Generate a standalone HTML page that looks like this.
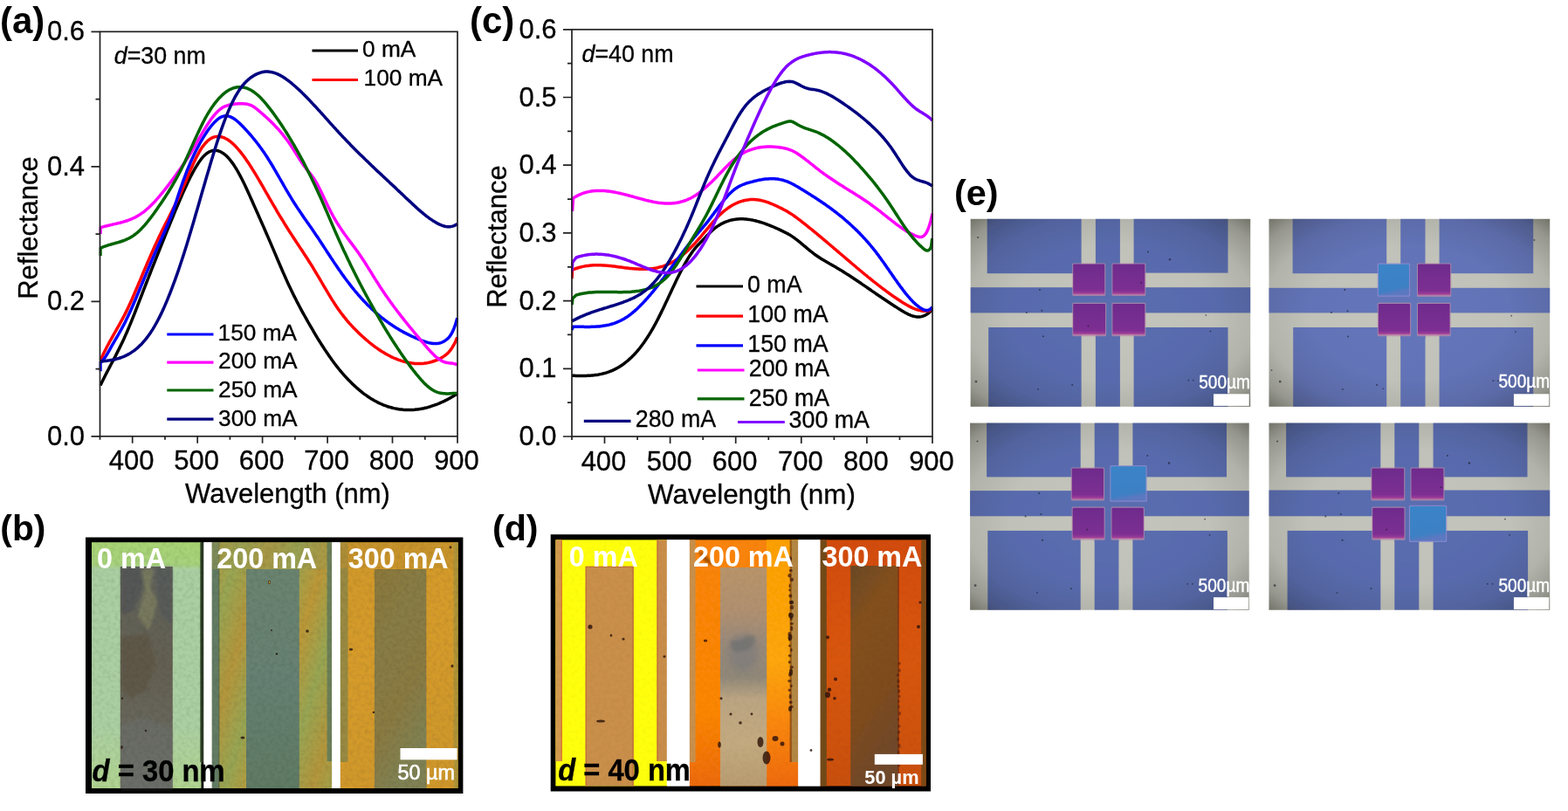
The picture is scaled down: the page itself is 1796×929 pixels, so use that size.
<!DOCTYPE html>
<html lang="en">
<head>
<meta charset="utf-8">
<title>Reflectance spectra and optical micrographs</title>
<style>
html,body{margin:0;padding:0;background:#fff;}
body{width:1796px;height:929px;overflow:hidden;font-family:"Liberation Sans", sans-serif;}
svg{display:block;position:absolute;left:0;top:0;}
</style>
</head>
<body>
<svg width="1796" height="929" viewBox="0 0 1796 929">
<rect x="0" y="0" width="1796" height="929" fill="#ffffff"/>
<defs>
<filter id="soft" x="-2%" y="-2%" width="104%" height="104%"><feGaussianBlur stdDeviation="0.7"/></filter>
<filter id="soft2" x="-5%" y="-5%" width="110%" height="110%"><feGaussianBlur stdDeviation="1.6"/></filter>
<filter id="soft4" x="-20%" y="-20%" width="140%" height="140%"><feGaussianBlur stdDeviation="4"/></filter>
<filter id="grain" x="0" y="0" width="100%" height="100%">
  <feTurbulence type="fractalNoise" baseFrequency="0.22" numOctaves="2" seed="7" result="n"/>
  <feColorMatrix in="n" type="matrix" values="0 0 0 0 0  0 0 0 0 0  0 0 0 0 0  1.6 0 0 0 -0.62"/>
</filter>
<filter id="grainL" x="0" y="0" width="100%" height="100%">
  <feTurbulence type="fractalNoise" baseFrequency="0.035" numOctaves="3" seed="3" result="n"/>
  <feColorMatrix in="n" type="matrix" values="0 0 0 0 1  0 0 0 0 1  0 0 0 0 1  0 1.8 0 0 -0.72"/>
</filter>
<linearGradient id="b1bg" x1="0" y1="0" x2="0" y2="1">
  <stop offset="0" stop-color="#a8d474"/><stop offset="0.09" stop-color="#a8d27c"/><stop offset="0.11" stop-color="#abcea2"/>
  <stop offset="0.75" stop-color="#accfa2"/><stop offset="1" stop-color="#b0d490"/>
</linearGradient>
<linearGradient id="b1st" x1="0" y1="0" x2="0" y2="1">
  <stop offset="0" stop-color="#62645c"/><stop offset="0.45" stop-color="#646052"/><stop offset="1" stop-color="#6c6e66"/>
</linearGradient>
<linearGradient id="b2bg" x1="0" y1="0" x2="0.35" y2="0.22" spreadMethod="reflect">
  <stop offset="0" stop-color="#bc9838"/><stop offset="0.5" stop-color="#98a654"/><stop offset="1" stop-color="#b4963c"/>
</linearGradient>
<linearGradient id="b2st" x1="0" y1="0" x2="0" y2="1">
  <stop offset="0" stop-color="#6a8470"/><stop offset="0.5" stop-color="#668072"/><stop offset="1" stop-color="#5f7a64"/>
</linearGradient>
<linearGradient id="b3bg" x1="0" y1="0" x2="0.3" y2="1">
  <stop offset="0" stop-color="#d0982a"/><stop offset="0.5" stop-color="#d69c2c"/><stop offset="1" stop-color="#d0982c"/>
</linearGradient>
<linearGradient id="b3st" x1="0" y1="0" x2="0.4" y2="1">
  <stop offset="0" stop-color="#8c783a"/><stop offset="0.35" stop-color="#887c46"/><stop offset="0.7" stop-color="#8a7a42"/><stop offset="1" stop-color="#808254"/>
</linearGradient>
<linearGradient id="d2st" x1="0" y1="0" x2="0" y2="1">
  <stop offset="0" stop-color="#b8946a"/><stop offset="0.2" stop-color="#b09070"/><stop offset="0.34" stop-color="#9a8a7a"/><stop offset="0.5" stop-color="#908878"/>
  <stop offset="0.6" stop-color="#baa482"/><stop offset="0.8" stop-color="#c4aa80"/><stop offset="1" stop-color="#b89c70"/>
</linearGradient>
<linearGradient id="d2l" x1="0" y1="0" x2="0" y2="1">
  <stop offset="0" stop-color="#f98408"/><stop offset="0.7" stop-color="#fb8606"/><stop offset="1" stop-color="#ec6a08"/>
</linearGradient>
<linearGradient id="d2r" x1="0" y1="0" x2="0" y2="1">
  <stop offset="0" stop-color="#fca006"/><stop offset="0.5" stop-color="#fda608"/><stop offset="0.72" stop-color="#fa8a0a"/><stop offset="1" stop-color="#ee6a0c"/>
</linearGradient>
<linearGradient id="d3bg" x1="0" y1="0" x2="0" y2="1">
  <stop offset="0" stop-color="#d24c08"/><stop offset="0.5" stop-color="#d8560c"/><stop offset="1" stop-color="#c8500e"/>
</linearGradient>
<linearGradient id="d3st" x1="0" y1="0" x2="0.3" y2="1">
  <stop offset="0" stop-color="#6a4a26"/><stop offset="0.3" stop-color="#84501e"/><stop offset="0.7" stop-color="#7e4c1e"/><stop offset="1" stop-color="#70482a"/>
</linearGradient>
<radialGradient id="vig" cx="0.5" cy="0.5" r="0.72" fx="0.5" fy="0.5">
  <stop offset="0" stop-color="#000" stop-opacity="0"/><stop offset="0.5" stop-color="#000" stop-opacity="0.02"/>
  <stop offset="0.72" stop-color="#101008" stop-opacity="0.10"/><stop offset="0.88" stop-color="#101008" stop-opacity="0.26"/><stop offset="1" stop-color="#141408" stop-opacity="0.5"/>
</radialGradient>
<linearGradient id="sqp" x1="0" y1="0" x2="0" y2="1">
  <stop offset="0" stop-color="#6e2c8c"/><stop offset="0.85" stop-color="#7c2e92"/><stop offset="0.95" stop-color="#9a3c98"/><stop offset="1" stop-color="#c0689c"/>
</linearGradient>
<linearGradient id="sqb" x1="0" y1="0" x2="0.2" y2="1">
  <stop offset="0" stop-color="#3a84c8"/><stop offset="0.85" stop-color="#3c80c4"/><stop offset="1" stop-color="#5c78c0"/>
</linearGradient>
</defs>
<g id="ga">
<clipPath id="clip-ga"><rect x="113.5" y="36.3" width="411.5" height="463.5"/></clipPath>
<g clip-path="url(#clip-ga)" fill="none" stroke-width="3.5" stroke-linejoin="round" stroke-linecap="butt">
<path d="M115 441.5 L116.5 438.3 L118 435.3 L119.5 432.3 L121 429.3 L122.5 426.4 L124 423.5 L125.5 420.7 L127 417.8 L128.5 415 L130 412.1 L131.5 409.3 L133 406.4 L134.5 403.4 L136 400.4 L137.5 397.4 L139 394.3 L140.5 391.2 L142 388 L143.5 384.6 L145 381.2 L146.5 377.8 L148 374.2 L149.5 370.6 L151 366.9 L152.5 363.1 L154 359.3 L155.5 355.5 L157 351.6 L158.5 347.7 L160 343.9 L161.5 340 L163 336.1 L164.5 332.2 L166 328.4 L167.5 324.5 L169 320.7 L170.5 316.9 L172 313 L173.5 309.2 L175 305.4 L176.5 301.6 L178 297.8 L179.5 294.1 L181 290.3 L182.5 286.5 L184 282.8 L185.5 279 L187 275.3 L188.5 271.6 L190 267.9 L191.5 264.2 L193 260.5 L194.5 256.8 L196 253.2 L197.5 249.5 L199 245.9 L200.5 242.2 L202 238.6 L203.5 235 L205 231.5 L206.5 228 L208 224.5 L209.5 221.1 L211 217.8 L212.5 214.5 L214 211.2 L215.5 208.1 L217 205 L218.5 202 L220 199.1 L221.5 196.4 L223 193.7 L224.5 191.1 L226 188.7 L227.5 186.4 L229 184.2 L230.5 182.2 L232 180.4 L233.5 178.7 L235 177.3 L236.5 176 L238 174.9 L239.5 174 L241 173.3 L242.5 172.8 L244 172.4 L245.5 172.3 L247 172.3 L248.5 172.5 L250 172.8 L251.5 173.4 L253 174 L254.5 174.9 L256 175.9 L257.5 177 L259 178.3 L260.5 179.8 L262 181.4 L263.5 183.2 L265 185.1 L266.5 187.1 L268 189.3 L269.5 191.6 L271 194 L272.5 196.6 L274 199.3 L275.5 202.1 L277 205 L278.5 208 L280 211.1 L281.5 214.3 L283 217.5 L284.5 220.8 L286 224.1 L287.5 227.5 L289 230.8 L290.5 234.2 L292 237.6 L293.5 241 L295 244.3 L296.5 247.7 L298 251.1 L299.5 254.5 L301 257.9 L302.5 261.3 L304 264.7 L305.5 268.2 L307 271.6 L308.5 275.1 L310 278.6 L311.5 282.1 L313 285.6 L314.5 289.1 L316 292.7 L317.5 296.2 L319 299.7 L320.5 303.2 L322 306.7 L323.5 310.2 L325 313.6 L326.5 317 L328 320.4 L329.5 323.7 L331 326.9 L332.5 330.1 L334 333.2 L335.5 336.3 L337 339.4 L338.5 342.3 L340 345.3 L341.5 348.1 L343 351 L344.5 353.8 L346 356.6 L347.5 359.3 L349 362 L350.5 364.7 L352 367.4 L353.5 370 L355 372.6 L356.5 375.2 L358 377.7 L359.5 380.3 L361 382.8 L362.5 385.3 L364 387.8 L365.5 390.2 L367 392.6 L368.5 395 L370 397.3 L371.5 399.6 L373 401.9 L374.5 404.1 L376 406.3 L377.5 408.5 L379 410.6 L380.5 412.7 L382 414.7 L383.5 416.7 L385 418.7 L386.5 420.6 L388 422.5 L389.5 424.3 L391 426.1 L392.5 427.9 L394 429.6 L395.5 431.3 L397 432.9 L398.5 434.5 L400 436.1 L401.5 437.6 L403 439.1 L404.5 440.5 L406 441.9 L407.5 443.3 L409 444.6 L410.5 445.9 L412 447.2 L413.5 448.4 L415 449.6 L416.5 450.8 L418 451.9 L419.5 452.9 L421 454 L422.5 455 L424 456 L425.5 456.9 L427 457.8 L428.5 458.7 L430 459.5 L431.5 460.3 L433 461.1 L434.5 461.8 L436 462.5 L437.5 463.1 L439 463.8 L440.5 464.4 L442 464.9 L443.5 465.5 L445 466 L446.5 466.4 L448 466.8 L449.5 467.2 L451 467.6 L452.5 467.9 L454 468.2 L455.5 468.5 L457 468.8 L458.5 469 L460 469.1 L461.5 469.3 L463 469.4 L464.5 469.5 L466 469.6 L467.5 469.6 L469 469.6 L470.5 469.5 L472 469.5 L473.5 469.4 L475 469.3 L476.5 469.1 L478 469 L479.5 468.8 L481 468.5 L482.5 468.3 L484 468 L485.5 467.7 L487 467.3 L488.5 467 L490 466.6 L491.5 466.1 L493 465.7 L494.5 465.2 L496 464.7 L497.5 464.2 L499 463.6 L500.5 463.1 L502 462.5 L503.5 461.8 L505 461.2 L506.5 460.5 L508 459.8 L509.5 459.1 L511 458.3 L512.5 457.6 L514 456.8 L515.5 455.9 L517 455.1 L518.5 454.2 L520 453.3 L521.5 452.4 L523 451.5 L523.8 451" stroke="#000000"/>
<path d="M115 412.7 L116.5 409.4 L118 406.3 L119.5 403.2 L121 400.2 L122.5 397.3 L124 394.5 L125.5 391.7 L127 389 L128.5 386.3 L130 383.6 L131.5 381 L133 378.4 L134.5 375.7 L136 373.1 L137.5 370.4 L139 367.6 L140.5 364.8 L142 362 L143.5 359.1 L145 356.1 L146.5 353 L148 349.8 L149.5 346.5 L151 343.2 L152.5 339.8 L154 336.3 L155.5 332.8 L157 329.3 L158.5 325.7 L160 322.2 L161.5 318.6 L163 315 L164.5 311.4 L166 307.9 L167.5 304.3 L169 300.8 L170.5 297.4 L172 293.9 L173.5 290.5 L175 287.1 L176.5 283.8 L178 280.4 L179.5 277.2 L181 274 L182.5 270.8 L184 267.7 L185.5 264.6 L187 261.6 L188.5 258.6 L190 255.6 L191.5 252.7 L193 249.7 L194.5 246.8 L196 243.8 L197.5 240.8 L199 237.8 L200.5 234.7 L202 231.6 L203.5 228.5 L205 225.3 L206.5 222 L208 218.7 L209.5 215.2 L211 211.7 L212.5 208.2 L214 204.7 L215.5 201.1 L217 197.6 L218.5 194.1 L220 190.7 L221.5 187.4 L223 184.2 L224.5 181.1 L226 178.1 L227.5 175.3 L229 172.7 L230.5 170.3 L232 168.1 L233.5 166.1 L235 164.3 L236.5 162.7 L238 161.2 L239.5 160 L241 159 L242.5 158.1 L244 157.4 L245.5 156.9 L247 156.6 L248.5 156.4 L250 156.3 L251.5 156.4 L253 156.7 L254.5 157 L256 157.6 L257.5 158.2 L259 159 L260.5 159.8 L262 160.8 L263.5 161.9 L265 163.1 L266.5 164.4 L268 165.8 L269.5 167.3 L271 168.9 L272.5 170.6 L274 172.3 L275.5 174.2 L277 176.1 L278.5 178 L280 180.1 L281.5 182.2 L283 184.4 L284.5 186.6 L286 188.9 L287.5 191.2 L289 193.6 L290.5 196 L292 198.4 L293.5 200.9 L295 203.4 L296.5 206 L298 208.5 L299.5 211.1 L301 213.7 L302.5 216.3 L304 219 L305.5 221.6 L307 224.2 L308.5 226.8 L310 229.4 L311.5 232 L313 234.6 L314.5 237.2 L316 239.7 L317.5 242.3 L319 244.8 L320.5 247.3 L322 249.7 L323.5 252.2 L325 254.7 L326.5 257.1 L328 259.5 L329.5 261.9 L331 264.2 L332.5 266.6 L334 268.9 L335.5 271.2 L337 273.5 L338.5 275.8 L340 278.1 L341.5 280.3 L343 282.6 L344.5 284.9 L346 287.1 L347.5 289.4 L349 291.7 L350.5 294 L352 296.3 L353.5 298.7 L355 301 L356.5 303.4 L358 305.8 L359.5 308.3 L361 310.8 L362.5 313.3 L364 315.8 L365.5 318.4 L367 320.9 L368.5 323.5 L370 326.1 L371.5 328.6 L373 331.2 L374.5 333.7 L376 336.2 L377.5 338.7 L379 341.2 L380.5 343.6 L382 345.9 L383.5 348.3 L385 350.5 L386.5 352.7 L388 354.9 L389.5 356.9 L391 359 L392.5 360.9 L394 362.9 L395.5 364.7 L397 366.6 L398.5 368.3 L400 370.1 L401.5 371.7 L403 373.4 L404.5 375 L406 376.6 L407.5 378.1 L409 379.6 L410.5 381.1 L412 382.5 L413.5 383.9 L415 385.3 L416.5 386.6 L418 387.9 L419.5 389.2 L421 390.5 L422.5 391.8 L424 393 L425.5 394.2 L427 395.3 L428.5 396.5 L430 397.6 L431.5 398.6 L433 399.7 L434.5 400.7 L436 401.7 L437.5 402.7 L439 403.6 L440.5 404.5 L442 405.4 L443.5 406.2 L445 407 L446.5 407.8 L448 408.6 L449.5 409.3 L451 410 L452.5 410.6 L454 411.2 L455.5 411.8 L457 412.4 L458.5 412.9 L460 413.4 L461.5 413.8 L463 414.3 L464.5 414.6 L466 415 L467.5 415.3 L469 415.6 L470.5 415.8 L472 416.1 L473.5 416.2 L475 416.4 L476.5 416.5 L478 416.5 L479.5 416.6 L481 416.5 L482.5 416.5 L484 416.4 L485.5 416.3 L487 416.1 L488.5 415.9 L490 415.6 L491.5 415.3 L493 414.9 L494.5 414.5 L496 414 L497.5 413.5 L499 413 L500.5 412.4 L502 411.7 L503.5 411 L505 410.2 L506.5 409.4 L508 408.4 L509.5 407.4 L511 406.2 L512.5 404.9 L514 403.4 L515.5 401.6 L517 399.6 L518.5 397.2 L520 394.6 L521.5 391.7 L523 388.3 L523.8 386.5" stroke="#ff0000"/>
<path d="M115 425.2 L115 415.3 L116.5 414.1 L118 412.6 L119.5 410.6 L121 408.4 L122.5 406 L124 403.4 L125.5 400.8 L127 398.1 L128.5 395.4 L130 392.8 L131.5 390.2 L133 387.6 L134.5 385.1 L136 382.5 L137.5 379.8 L139 377.2 L140.5 374.4 L142 371.6 L143.5 368.7 L145 365.6 L146.5 362.5 L148 359.3 L149.5 356 L151 352.7 L152.5 349.3 L154 345.8 L155.5 342.3 L157 338.7 L158.5 335.1 L160 331.5 L161.5 327.9 L163 324.3 L164.5 320.7 L166 317.1 L167.5 313.5 L169 309.9 L170.5 306.3 L172 302.8 L173.5 299.2 L175 295.7 L176.5 292.3 L178 288.8 L179.5 285.4 L181 282 L182.5 278.7 L184 275.4 L185.5 272.1 L187 268.8 L188.5 265.4 L190 262 L191.5 258.5 L193 255 L194.5 251.3 L196 247.4 L197.5 243.5 L199 239.3 L200.5 234.9 L202 230.5 L203.5 225.9 L205 221.4 L206.5 216.9 L208 212.5 L209.5 208.2 L211 204.1 L212.5 200.1 L214 196.2 L215.5 192.5 L217 188.8 L218.5 185.3 L220 182 L221.5 178.7 L223 175.6 L224.5 172.5 L226 169.6 L227.5 166.8 L229 164 L230.5 161.4 L232 158.9 L233.5 156.4 L235 154.1 L236.5 151.8 L238 149.6 L239.5 147.5 L241 145.5 L242.5 143.7 L244 141.9 L245.5 140.2 L247 138.7 L248.5 137.4 L250 136.2 L251.5 135.1 L253 134.2 L254.5 133.6 L256 133.1 L257.5 132.8 L259 132.7 L260.5 132.8 L262 133.1 L263.5 133.6 L265 134.3 L266.5 135.1 L268 136 L269.5 137 L271 138.2 L272.5 139.5 L274 140.8 L275.5 142.3 L277 143.8 L278.5 145.3 L280 146.9 L281.5 148.5 L283 150.1 L284.5 151.8 L286 153.5 L287.5 155.2 L289 157 L290.5 158.8 L292 160.7 L293.5 162.5 L295 164.5 L296.5 166.4 L298 168.5 L299.5 170.5 L301 172.7 L302.5 174.8 L304 177.1 L305.5 179.3 L307 181.7 L308.5 184.1 L310 186.5 L311.5 189 L313 191.5 L314.5 194.1 L316 196.7 L317.5 199.3 L319 201.9 L320.5 204.5 L322 207.1 L323.5 209.7 L325 212.4 L326.5 215 L328 217.6 L329.5 220.1 L331 222.7 L332.5 225.2 L334 227.6 L335.5 230.1 L337 232.5 L338.5 234.8 L340 237.1 L341.5 239.4 L343 241.6 L344.5 243.8 L346 246 L347.5 248.2 L349 250.4 L350.5 252.5 L352 254.7 L353.5 256.8 L355 259 L356.5 261.1 L358 263.3 L359.5 265.5 L361 267.7 L362.5 269.9 L364 272.1 L365.5 274.4 L367 276.7 L368.5 279 L370 281.3 L371.5 283.6 L373 285.9 L374.5 288.2 L376 290.5 L377.5 292.8 L379 295.1 L380.5 297.3 L382 299.6 L383.5 301.9 L385 304.1 L386.5 306.3 L388 308.5 L389.5 310.6 L391 312.8 L392.5 314.9 L394 316.9 L395.5 319 L397 321 L398.5 323 L400 324.9 L401.5 326.9 L403 328.8 L404.5 330.6 L406 332.5 L407.5 334.3 L409 336 L410.5 337.8 L412 339.5 L413.5 341.2 L415 342.8 L416.5 344.5 L418 346.1 L419.5 347.6 L421 349.2 L422.5 350.6 L424 352.1 L425.5 353.6 L427 355 L428.5 356.3 L430 357.7 L431.5 359 L433 360.3 L434.5 361.6 L436 362.8 L437.5 364 L439 365.2 L440.5 366.4 L442 367.5 L443.5 368.6 L445 369.7 L446.5 370.7 L448 371.8 L449.5 372.8 L451 373.8 L452.5 374.7 L454 375.7 L455.5 376.6 L457 377.5 L458.5 378.4 L460 379.2 L461.5 380.1 L463 380.9 L464.5 381.7 L466 382.4 L467.5 383.2 L469 383.9 L470.5 384.7 L472 385.4 L473.5 386 L475 386.7 L476.5 387.4 L478 388 L479.5 388.6 L481 389.2 L482.5 389.8 L484 390.4 L485.5 390.9 L487 391.4 L488.5 391.9 L490 392.4 L491.5 392.8 L493 393.1 L494.5 393.3 L496 393.5 L497.5 393.6 L499 393.6 L500.5 393.5 L502 393.3 L503.5 393 L505 392.6 L506.5 392 L508 391.3 L509.5 390.4 L511 389.4 L512.5 388.2 L514 386.7 L515.5 384.8 L517 382.5 L518.5 379.6 L520 376.2 L521.5 372 L523 367 L523.8 364.2" stroke="#0000ff"/>
<path d="M115 268 L115 260.7 L116.5 260.3 L118 259.9 L119.5 259.4 L121 259 L122.5 258.7 L124 258.3 L125.5 258 L127 257.6 L128.5 257.3 L130 256.9 L131.5 256.6 L133 256.3 L134.5 255.9 L136 255.5 L137.5 255.2 L139 254.8 L140.5 254.4 L142 253.9 L143.5 253.5 L145 253 L146.5 252.5 L148 251.9 L149.5 251.3 L151 250.7 L152.5 250 L154 249.3 L155.5 248.6 L157 247.7 L158.5 246.9 L160 245.9 L161.5 244.9 L163 243.9 L164.5 242.8 L166 241.6 L167.5 240.3 L169 239 L170.5 237.7 L172 236.2 L173.5 234.8 L175 233.2 L176.5 231.7 L178 230.1 L179.5 228.4 L181 226.7 L182.5 225 L184 223.2 L185.5 221.4 L187 219.5 L188.5 217.7 L190 215.7 L191.5 213.8 L193 211.9 L194.5 209.9 L196 207.9 L197.5 205.9 L199 203.8 L200.5 201.8 L202 199.7 L203.5 197.6 L205 195.5 L206.5 193.4 L208 191.3 L209.5 189.1 L211 186.9 L212.5 184.6 L214 182.3 L215.5 180 L217 177.6 L218.5 175.2 L220 172.7 L221.5 170.2 L223 167.6 L224.5 165 L226 162.3 L227.5 159.7 L229 157.1 L230.5 154.5 L232 151.9 L233.5 149.4 L235 146.9 L236.5 144.5 L238 142.1 L239.5 139.9 L241 137.7 L242.5 135.6 L244 133.7 L245.5 131.8 L247 130.1 L248.5 128.5 L250 127 L251.5 125.7 L253 124.5 L254.5 123.5 L256 122.6 L257.5 121.9 L259 121.3 L260.5 120.8 L262 120.4 L263.5 120 L265 119.7 L266.5 119.5 L268 119.3 L269.5 119.1 L271 119 L272.5 118.8 L274 118.8 L275.5 118.7 L277 118.7 L278.5 118.8 L280 118.9 L281.5 119 L283 119.3 L284.5 119.6 L286 120.1 L287.5 120.7 L289 121.4 L290.5 122.3 L292 123.3 L293.5 124.4 L295 125.6 L296.5 126.9 L298 128.2 L299.5 129.5 L301 130.8 L302.5 132.1 L304 133.5 L305.5 134.8 L307 136.2 L308.5 137.6 L310 139.1 L311.5 140.5 L313 142 L314.5 143.6 L316 145.2 L317.5 146.8 L319 148.4 L320.5 150.2 L322 151.9 L323.5 153.7 L325 155.6 L326.5 157.5 L328 159.5 L329.5 161.5 L331 163.6 L332.5 165.8 L334 168.1 L335.5 170.4 L337 172.7 L338.5 175.1 L340 177.5 L341.5 179.8 L343 182.2 L344.5 184.5 L346 186.7 L347.5 188.9 L349 191 L350.5 192.9 L352 194.8 L353.5 196.7 L355 198.5 L356.5 200.4 L358 202.4 L359.5 204.5 L361 206.9 L362.5 209.4 L364 212.2 L365.5 215 L367 218 L368.5 221.1 L370 224.2 L371.5 227.4 L373 230.5 L374.5 233.7 L376 236.8 L377.5 239.8 L379 242.7 L380.5 245.5 L382 248.3 L383.5 250.9 L385 253.5 L386.5 255.9 L388 258.3 L389.5 260.6 L391 262.9 L392.5 265.1 L394 267.2 L395.5 269.3 L397 271.3 L398.5 273.4 L400 275.4 L401.5 277.4 L403 279.4 L404.5 281.4 L406 283.4 L407.5 285.4 L409 287.5 L410.5 289.6 L412 291.7 L413.5 293.9 L415 296.2 L416.5 298.5 L418 300.8 L419.5 303.2 L421 305.6 L422.5 308 L424 310.4 L425.5 312.8 L427 315.3 L428.5 317.7 L430 320.1 L431.5 322.5 L433 324.8 L434.5 327.2 L436 329.5 L437.5 331.7 L439 334 L440.5 336.2 L442 338.4 L443.5 340.5 L445 342.7 L446.5 344.8 L448 346.9 L449.5 348.9 L451 351 L452.5 353 L454 355 L455.5 357 L457 358.9 L458.5 360.9 L460 362.8 L461.5 364.7 L463 366.6 L464.5 368.5 L466 370.4 L467.5 372.2 L469 374.1 L470.5 375.9 L472 377.7 L473.5 379.5 L475 381.4 L476.5 383.2 L478 385 L479.5 386.7 L481 388.5 L482.5 390.3 L484 392.1 L485.5 393.9 L487 395.7 L488.5 397.4 L490 399.1 L491.5 400.8 L493 402.5 L494.5 404.1 L496 405.6 L497.5 407.1 L499 408.5 L500.5 409.7 L502 410.9 L503.5 411.9 L505 412.9 L506.5 413.6 L508 414.3 L509.5 414.8 L511 415.2 L512.5 415.4 L514 415.7 L515.5 415.9 L517 416.1 L518.5 416.3 L520 416.6 L521.5 417 L523 417.5 L523.8 417.7" stroke="#ff00ff"/>
<path d="M115 293 L115 284.2 L116.5 283.6 L118 282.9 L119.5 282.4 L121 281.8 L122.5 281.3 L124 280.8 L125.5 280.4 L127 280 L128.5 279.5 L130 279.1 L131.5 278.7 L133 278.3 L134.5 277.9 L136 277.5 L137.5 277 L139 276.5 L140.5 276 L142 275.5 L143.5 274.9 L145 274.2 L146.5 273.5 L148 272.8 L149.5 271.9 L151 271.1 L152.5 270.1 L154 269 L155.5 267.9 L157 266.7 L158.5 265.4 L160 264 L161.5 262.5 L163 260.9 L164.5 259.3 L166 257.6 L167.5 255.8 L169 254 L170.5 252.1 L172 250.2 L173.5 248.2 L175 246.2 L176.5 244.2 L178 242.1 L179.5 239.9 L181 237.8 L182.5 235.6 L184 233.4 L185.5 231.2 L187 229 L188.5 226.7 L190 224.4 L191.5 222.1 L193 219.7 L194.5 217.3 L196 214.8 L197.5 212.3 L199 209.7 L200.5 207.1 L202 204.4 L203.5 201.7 L205 198.9 L206.5 196 L208 193.1 L209.5 190 L211 186.9 L212.5 183.8 L214 180.5 L215.5 177.2 L217 173.9 L218.5 170.5 L220 167.2 L221.5 163.8 L223 160.5 L224.5 157.2 L226 153.9 L227.5 150.7 L229 147.5 L230.5 144.4 L232 141.4 L233.5 138.5 L235 135.7 L236.5 133 L238 130.4 L239.5 128 L241 125.6 L242.5 123.3 L244 121.2 L245.5 119.1 L247 117.1 L248.5 115.3 L250 113.5 L251.5 111.9 L253 110.4 L254.5 108.9 L256 107.6 L257.5 106.4 L259 105.2 L260.5 104.2 L262 103.3 L263.5 102.5 L265 101.8 L266.5 101.2 L268 100.7 L269.5 100.3 L271 100 L272.5 99.8 L274 99.7 L275.5 99.7 L277 99.8 L278.5 100 L280 100.3 L281.5 100.7 L283 101.2 L284.5 101.8 L286 102.5 L287.5 103.3 L289 104.2 L290.5 105.2 L292 106.3 L293.5 107.5 L295 108.8 L296.5 110.1 L298 111.6 L299.5 113.1 L301 114.7 L302.5 116.4 L304 118.1 L305.5 119.9 L307 121.8 L308.5 123.7 L310 125.6 L311.5 127.6 L313 129.6 L314.5 131.7 L316 133.8 L317.5 136 L319 138.1 L320.5 140.3 L322 142.5 L323.5 144.8 L325 147.1 L326.5 149.4 L328 151.8 L329.5 154.2 L331 156.6 L332.5 159.1 L334 161.6 L335.5 164.1 L337 166.7 L338.5 169.3 L340 171.9 L341.5 174.6 L343 177.3 L344.5 180.1 L346 182.9 L347.5 185.7 L349 188.6 L350.5 191.5 L352 194.5 L353.5 197.5 L355 200.5 L356.5 203.6 L358 206.7 L359.5 209.8 L361 213 L362.5 216.2 L364 219.4 L365.5 222.7 L367 226 L368.5 229.4 L370 232.8 L371.5 236.2 L373 239.7 L374.5 243.1 L376 246.6 L377.5 250.1 L379 253.6 L380.5 257.1 L382 260.6 L383.5 264.1 L385 267.5 L386.5 270.9 L388 274.3 L389.5 277.6 L391 280.9 L392.5 284.2 L394 287.4 L395.5 290.6 L397 293.8 L398.5 297 L400 300.1 L401.5 303.2 L403 306.2 L404.5 309.3 L406 312.3 L407.5 315.3 L409 318.2 L410.5 321.2 L412 324.1 L413.5 327 L415 329.8 L416.5 332.7 L418 335.5 L419.5 338.3 L421 341 L422.5 343.8 L424 346.5 L425.5 349.2 L427 351.9 L428.5 354.6 L430 357.3 L431.5 359.9 L433 362.5 L434.5 365.1 L436 367.7 L437.5 370.2 L439 372.8 L440.5 375.3 L442 377.8 L443.5 380.2 L445 382.7 L446.5 385.1 L448 387.5 L449.5 389.9 L451 392.2 L452.5 394.5 L454 396.8 L455.5 399.1 L457 401.3 L458.5 403.6 L460 405.8 L461.5 407.9 L463 410.1 L464.5 412.2 L466 414.3 L467.5 416.3 L469 418.4 L470.5 420.4 L472 422.3 L473.5 424.3 L475 426.2 L476.5 428.1 L478 429.9 L479.5 431.7 L481 433.5 L482.5 435.1 L484 436.8 L485.5 438.4 L487 439.9 L488.5 441.3 L490 442.6 L491.5 443.9 L493 445 L494.5 446.1 L496 447 L497.5 447.8 L499 448.5 L500.5 449.1 L502 449.6 L503.5 450 L505 450.3 L506.5 450.6 L508 450.7 L509.5 450.8 L511 450.9 L512.5 450.9 L514 450.9 L515.5 450.8 L517 450.7 L518.5 450.6 L520 450.5 L521.5 450.4 L523 450.3 L523.8 450.2" stroke="#006400"/>
<path d="M115 414 L116.5 413.8 L118 413.7 L119.5 413.6 L121 413.4 L122.5 413.2 L124 413 L125.5 412.8 L127 412.5 L128.5 412.3 L130 412 L131.5 411.7 L133 411.3 L134.5 410.9 L136 410.5 L137.5 410 L139 409.5 L140.5 408.9 L142 408.3 L143.5 407.6 L145 406.9 L146.5 406.1 L148 405.3 L149.5 404.4 L151 403.4 L152.5 402.4 L154 401.3 L155.5 400.1 L157 398.9 L158.5 397.6 L160 396.1 L161.5 394.7 L163 393.1 L164.5 391.4 L166 389.7 L167.5 387.8 L169 385.9 L170.5 383.8 L172 381.7 L173.5 379.4 L175 377.1 L176.5 374.6 L178 372 L179.5 369.3 L181 366.5 L182.5 363.6 L184 360.6 L185.5 357.5 L187 354.2 L188.5 350.9 L190 347.4 L191.5 343.9 L193 340.2 L194.5 336.5 L196 332.6 L197.5 328.7 L199 324.7 L200.5 320.6 L202 316.4 L203.5 312.1 L205 307.7 L206.5 303.3 L208 298.7 L209.5 294.1 L211 289.5 L212.5 284.7 L214 279.9 L215.5 275 L217 270.1 L218.5 265.1 L220 260 L221.5 254.9 L223 249.8 L224.5 244.6 L226 239.5 L227.5 234.3 L229 229.1 L230.5 223.8 L232 218.6 L233.5 213.4 L235 208.3 L236.5 203.1 L238 198 L239.5 192.9 L241 187.8 L242.5 182.8 L244 177.9 L245.5 173 L247 168.2 L248.5 163.5 L250 158.9 L251.5 154.4 L253 149.9 L254.5 145.7 L256 141.5 L257.5 137.5 L259 133.6 L260.5 129.9 L262 126.3 L263.5 122.9 L265 119.6 L266.5 116.5 L268 113.5 L269.5 110.7 L271 108.1 L272.5 105.6 L274 103.3 L275.5 101.1 L277 99.1 L278.5 97.2 L280 95.5 L281.5 93.9 L283 92.5 L284.5 91.1 L286 89.9 L287.5 88.7 L289 87.7 L290.5 86.7 L292 85.9 L293.5 85.1 L295 84.4 L296.5 83.8 L298 83.3 L299.5 82.9 L301 82.5 L302.5 82.3 L304 82.1 L305.5 82.1 L307 82.1 L308.5 82.2 L310 82.4 L311.5 82.7 L313 83.1 L314.5 83.5 L316 84.1 L317.5 84.7 L319 85.4 L320.5 86.1 L322 86.9 L323.5 87.8 L325 88.8 L326.5 89.8 L328 90.8 L329.5 91.9 L331 93 L332.5 94.2 L334 95.4 L335.5 96.7 L337 98 L338.5 99.3 L340 100.6 L341.5 102 L343 103.4 L344.5 104.8 L346 106.3 L347.5 107.7 L349 109.2 L350.5 110.7 L352 112.3 L353.5 113.8 L355 115.4 L356.5 117 L358 118.6 L359.5 120.2 L361 121.8 L362.5 123.4 L364 125.1 L365.5 126.7 L367 128.4 L368.5 130 L370 131.7 L371.5 133.4 L373 135.1 L374.5 136.7 L376 138.4 L377.5 140.1 L379 141.8 L380.5 143.4 L382 145.1 L383.5 146.7 L385 148.4 L386.5 150 L388 151.7 L389.5 153.3 L391 154.9 L392.5 156.5 L394 158.1 L395.5 159.6 L397 161.2 L398.5 162.8 L400 164.3 L401.5 165.9 L403 167.4 L404.5 168.9 L406 170.4 L407.5 171.9 L409 173.4 L410.5 174.9 L412 176.4 L413.5 177.9 L415 179.3 L416.5 180.8 L418 182.3 L419.5 183.7 L421 185.1 L422.5 186.6 L424 188 L425.5 189.5 L427 190.9 L428.5 192.3 L430 193.7 L431.5 195.2 L433 196.6 L434.5 198 L436 199.4 L437.5 200.8 L439 202.2 L440.5 203.6 L442 205 L443.5 206.4 L445 207.8 L446.5 209.2 L448 210.6 L449.5 212 L451 213.4 L452.5 214.8 L454 216.3 L455.5 217.7 L457 219.1 L458.5 220.5 L460 221.9 L461.5 223.3 L463 224.7 L464.5 226.2 L466 227.6 L467.5 229 L469 230.4 L470.5 231.8 L472 233.2 L473.5 234.6 L475 236 L476.5 237.4 L478 238.7 L479.5 240.1 L481 241.4 L482.5 242.7 L484 243.9 L485.5 245.2 L487 246.4 L488.5 247.6 L490 248.7 L491.5 249.8 L493 250.9 L494.5 251.9 L496 252.9 L497.5 253.8 L499 254.7 L500.5 255.6 L502 256.4 L503.5 257.1 L505 257.7 L506.5 258.3 L508 258.8 L509.5 259.2 L511 259.5 L512.5 259.7 L514 259.7 L515.5 259.7 L517 259.4 L518.5 259.1 L520 258.6 L521.5 257.9 L523 257 L523.8 256.5" stroke="#000080"/>
</g>
<rect x="114.5" y="36.3" width="409.5" height="463.5" fill="none" stroke="#222222" stroke-width="1.7"/>
<path d="M114.5 499.8 v4 M151.7 499.8 v8 M189 499.8 v4 M226.2 499.8 v8 M263.4 499.8 v4 M300.6 499.8 v8 M337.9 499.8 v4 M375.1 499.8 v8 M412.3 499.8 v4 M449.5 499.8 v8 M486.8 499.8 v4 M524 499.8 v8 M114.5 499.8 h-10 M114.5 422.6 h-5 M114.5 345.3 h-10 M114.5 268.1 h-5 M114.5 190.8 h-10 M114.5 113.6 h-5 M114.5 36.3 h-10" stroke="#222222" stroke-width="1.7" fill="none"/>
<g font-family='"Liberation Sans", sans-serif' font-size="31" fill="#000" stroke="#000" stroke-width="0.3">
<text x="150.7" y="538.4" text-anchor="middle">400</text>
<text x="225.2" y="538.4" text-anchor="middle">500</text>
<text x="299.6" y="538.4" text-anchor="middle">600</text>
<text x="374.1" y="538.4" text-anchor="middle">700</text>
<text x="448.5" y="538.4" text-anchor="middle">800</text>
<text x="523" y="538.4" text-anchor="middle">900</text>
<text x="97" y="509.8" text-anchor="end">0.0</text>
<text x="97" y="355.3" text-anchor="end">0.2</text>
<text x="97" y="200.8" text-anchor="end">0.4</text>
<text x="97" y="46.3" text-anchor="end">0.6</text>
<text x="329.5" y="576" text-anchor="middle" font-size="31">Wavelength (nm)</text>
<text transform="translate(42.8 261) rotate(-90)" text-anchor="middle">Reflectance</text>
</g>
<text x="0" y="38" font-family='"Liberation Sans", sans-serif' font-size="42" font-weight="bold" fill="#000">(a)</text>
<text x="130.8" y="72.7" font-family='"Liberation Sans", sans-serif' font-size="26.8" fill="#000" stroke="#000" stroke-width="0.3"><tspan font-style="italic">d</tspan>=30 nm</text>
<g font-family='"Liberation Sans", sans-serif' font-size="26.3" fill="#000" stroke="#000" stroke-width="0.3">
<path d="M357.5 58 H410" stroke="#000000" stroke-width="3.2" fill="none"/>
<text x="415" y="65.3">0 mA</text>
<path d="M357.5 91.5 H410" stroke="#ff0000" stroke-width="3.2" fill="none"/>
<text x="416.5" y="98.3">100 mA</text>
<path d="M191.3 383 H244.5" stroke="#0000ff" stroke-width="3.2" fill="none"/>
<text x="249.5" y="390">150 mA</text>
<path d="M191.3 415.2 H244.5" stroke="#ff00ff" stroke-width="3.2" fill="none"/>
<text x="250" y="422.3">200 mA</text>
<path d="M191.3 447 H244.5" stroke="#006400" stroke-width="3.2" fill="none"/>
<text x="250" y="455">250 mA</text>
<path d="M191.3 480.2 H244.5" stroke="#000080" stroke-width="3.2" fill="none"/>
<text x="250" y="487.8">300 mA</text>
</g>
</g>
<g id="gc">
<clipPath id="clip-gc"><rect x="654" y="33.8" width="415" height="466.2"/></clipPath>
<g clip-path="url(#clip-gc)" fill="none" stroke-width="3.5" stroke-linejoin="round" stroke-linecap="butt">
<path d="M655 430.2 L656.5 430.3 L658 430.3 L659.5 430.4 L661 430.4 L662.5 430.4 L664 430.5 L665.5 430.5 L667 430.5 L668.5 430.5 L670 430.4 L671.5 430.4 L673 430.3 L674.5 430.3 L676 430.2 L677.5 430.1 L679 429.9 L680.5 429.8 L682 429.6 L683.5 429.4 L685 429.2 L686.5 428.9 L688 428.6 L689.5 428.3 L691 427.9 L692.5 427.5 L694 427.1 L695.5 426.6 L697 426.1 L698.5 425.5 L700 425 L701.5 424.3 L703 423.6 L704.5 422.9 L706 422.1 L707.5 421.3 L709 420.4 L710.5 419.5 L712 418.5 L713.5 417.5 L715 416.4 L716.5 415.2 L718 414 L719.5 412.8 L721 411.4 L722.5 410 L724 408.6 L725.5 407.1 L727 405.5 L728.5 403.8 L730 402.1 L731.5 400.3 L733 398.5 L734.5 396.5 L736 394.5 L737.5 392.5 L739 390.3 L740.5 388.1 L742 385.8 L743.5 383.4 L745 381 L746.5 378.4 L748 375.8 L749.5 373.1 L751 370.4 L752.5 367.5 L754 364.6 L755.5 361.6 L757 358.6 L758.5 355.5 L760 352.4 L761.5 349.2 L763 346.1 L764.5 342.9 L766 339.6 L767.5 336.4 L769 333.2 L770.5 330 L772 326.9 L773.5 323.7 L775 320.6 L776.5 317.5 L778 314.5 L779.5 311.5 L781 308.6 L782.5 305.8 L784 303 L785.5 300.3 L787 297.8 L788.5 295.3 L790 292.9 L791.5 290.7 L793 288.5 L794.5 286.5 L796 284.7 L797.5 282.9 L799 281.3 L800.5 279.7 L802 278.1 L803.5 276.6 L805 275 L806.5 273.5 L808 271.9 L809.5 270.3 L811 268.8 L812.5 267.2 L814 265.7 L815.5 264.3 L817 263 L818.5 261.7 L820 260.5 L821.5 259.4 L823 258.4 L824.5 257.5 L826 256.6 L827.5 255.8 L829 255.1 L830.5 254.4 L832 253.8 L833.5 253.3 L835 252.8 L836.5 252.4 L838 252 L839.5 251.7 L841 251.4 L842.5 251.2 L844 251 L845.5 250.9 L847 250.8 L848.5 250.8 L850 250.8 L851.5 250.8 L853 250.9 L854.5 251 L856 251.2 L857.5 251.4 L859 251.6 L860.5 251.9 L862 252.1 L863.5 252.5 L865 252.8 L866.5 253.2 L868 253.6 L869.5 254 L871 254.5 L872.5 254.9 L874 255.4 L875.5 255.9 L877 256.5 L878.5 257 L880 257.6 L881.5 258.2 L883 258.8 L884.5 259.4 L886 260 L887.5 260.7 L889 261.3 L890.5 262 L892 262.7 L893.5 263.4 L895 264.1 L896.5 264.8 L898 265.6 L899.5 266.3 L901 267.1 L902.5 267.9 L904 268.7 L905.5 269.6 L907 270.6 L908.5 271.6 L910 272.7 L911.5 273.8 L913 274.9 L914.5 276.1 L916 277.3 L917.5 278.6 L919 279.8 L920.5 281.1 L922 282.3 L923.5 283.6 L925 284.9 L926.5 286.1 L928 287.3 L929.5 288.5 L931 289.7 L932.5 290.9 L934 292 L935.5 293 L937 294 L938.5 295 L940 296 L941.5 296.9 L943 297.8 L944.5 298.7 L946 299.6 L947.5 300.5 L949 301.3 L950.5 302.2 L952 303 L953.5 303.9 L955 304.7 L956.5 305.6 L958 306.5 L959.5 307.4 L961 308.3 L962.5 309.2 L964 310.1 L965.5 311 L967 312 L968.5 312.9 L970 313.9 L971.5 314.8 L973 315.8 L974.5 316.8 L976 317.8 L977.5 318.8 L979 319.8 L980.5 320.8 L982 321.8 L983.5 322.8 L985 323.8 L986.5 324.8 L988 325.9 L989.5 326.9 L991 327.9 L992.5 328.9 L994 330 L995.5 331 L997 332 L998.5 333.1 L1000 334.1 L1001.5 335.1 L1003 336.2 L1004.5 337.2 L1006 338.2 L1007.5 339.2 L1009 340.2 L1010.5 341.3 L1012 342.3 L1013.5 343.3 L1015 344.3 L1016.5 345.3 L1018 346.3 L1019.5 347.3 L1021 348.3 L1022.5 349.2 L1024 350.2 L1025.5 351.2 L1027 352.1 L1028.5 353.1 L1030 354.1 L1031.5 355 L1033 355.9 L1034.5 356.8 L1036 357.7 L1037.5 358.5 L1039 359.3 L1040.5 360.1 L1042 360.7 L1043.5 361.3 L1045 361.8 L1046.5 362.3 L1048 362.6 L1049.5 362.9 L1051 363 L1052.5 363 L1054 362.9 L1055.5 362.6 L1057 362.2 L1058.5 361.7 L1060 361 L1061.5 360.1 L1063 359.1 L1064.5 357.9 L1066 356.5 L1067.5 354.8 L1068 354.3" stroke="#000000"/>
<path d="M655 319.2 L655.5 309.2 L657 308.6 L658.5 308 L660 307.5 L661.5 307 L663 306.5 L664.5 306.1 L666 305.7 L667.5 305.4 L669 305.1 L670.5 304.8 L672 304.6 L673.5 304.4 L675 304.2 L676.5 304 L678 303.9 L679.5 303.8 L681 303.8 L682.5 303.7 L684 303.7 L685.5 303.7 L687 303.8 L688.5 303.8 L690 303.9 L691.5 304 L693 304.1 L694.5 304.2 L696 304.3 L697.5 304.5 L699 304.6 L700.5 304.8 L702 305 L703.5 305.1 L705 305.3 L706.5 305.5 L708 305.7 L709.5 305.9 L711 306.1 L712.5 306.3 L714 306.5 L715.5 306.7 L717 306.9 L718.5 307 L720 307.2 L721.5 307.4 L723 307.5 L724.5 307.7 L726 307.8 L727.5 307.9 L729 308 L730.5 308.1 L732 308.2 L733.5 308.2 L735 308.3 L736.5 308.3 L738 308.3 L739.5 308.2 L741 308.2 L742.5 308.1 L744 308 L745.5 307.8 L747 307.7 L748.5 307.5 L750 307.2 L751.5 307 L753 306.7 L754.5 306.3 L756 305.9 L757.5 305.5 L759 305.1 L760.5 304.6 L762 304 L763.5 303.5 L765 302.8 L766.5 302.2 L768 301.4 L769.5 300.7 L771 299.8 L772.5 299 L774 298 L775.5 297.1 L777 296 L778.5 294.9 L780 293.8 L781.5 292.6 L783 291.3 L784.5 290 L786 288.7 L787.5 287.3 L789 285.8 L790.5 284.4 L792 282.8 L793.5 281.3 L795 279.7 L796.5 278.1 L798 276.4 L799.5 274.7 L801 273 L802.5 271.3 L804 269.5 L805.5 267.7 L807 265.9 L808.5 264.1 L810 262.3 L811.5 260.5 L813 258.7 L814.5 256.9 L816 255.2 L817.5 253.5 L819 251.8 L820.5 250.2 L822 248.6 L823.5 247.1 L825 245.6 L826.5 244.2 L828 242.9 L829.5 241.7 L831 240.5 L832.5 239.3 L834 238.2 L835.5 237.2 L837 236.2 L838.5 235.3 L840 234.5 L841.5 233.7 L843 233 L844.5 232.3 L846 231.7 L847.5 231.1 L849 230.6 L850.5 230.2 L852 229.8 L853.5 229.5 L855 229.2 L856.5 228.9 L858 228.8 L859.5 228.6 L861 228.6 L862.5 228.6 L864 228.6 L865.5 228.7 L867 228.8 L868.5 229 L870 229.2 L871.5 229.5 L873 229.9 L874.5 230.2 L876 230.7 L877.5 231.1 L879 231.6 L880.5 232.2 L882 232.8 L883.5 233.4 L885 234 L886.5 234.7 L888 235.3 L889.5 236 L891 236.7 L892.5 237.5 L894 238.2 L895.5 238.9 L897 239.7 L898.5 240.5 L900 241.3 L901.5 242.1 L903 243 L904.5 244 L906 244.9 L907.5 245.9 L909 246.9 L910.5 248 L912 249.1 L913.5 250.2 L915 251.3 L916.5 252.4 L918 253.6 L919.5 254.8 L921 256 L922.5 257.1 L924 258.3 L925.5 259.6 L927 260.8 L928.5 262 L930 263.2 L931.5 264.4 L933 265.7 L934.5 266.9 L936 268.1 L937.5 269.4 L939 270.6 L940.5 271.9 L942 273.1 L943.5 274.4 L945 275.7 L946.5 276.9 L948 278.2 L949.5 279.5 L951 280.7 L952.5 282 L954 283.3 L955.5 284.6 L957 285.8 L958.5 287.1 L960 288.4 L961.5 289.7 L963 291 L964.5 292.2 L966 293.5 L967.5 294.8 L969 296.1 L970.5 297.4 L972 298.6 L973.5 299.9 L975 301.2 L976.5 302.5 L978 303.7 L979.5 305 L981 306.3 L982.5 307.5 L984 308.8 L985.5 310 L987 311.3 L988.5 312.5 L990 313.8 L991.5 315 L993 316.2 L994.5 317.5 L996 318.7 L997.5 319.9 L999 321.1 L1000.5 322.3 L1002 323.5 L1003.5 324.7 L1005 325.8 L1006.5 327 L1008 328.2 L1009.5 329.3 L1011 330.5 L1012.5 331.6 L1014 332.7 L1015.5 333.8 L1017 334.9 L1018.5 336 L1020 337.1 L1021.5 338.2 L1023 339.2 L1024.5 340.3 L1026 341.3 L1027.5 342.3 L1029 343.3 L1030.5 344.3 L1032 345.3 L1033.5 346.3 L1035 347.2 L1036.5 348.1 L1038 349 L1039.5 349.8 L1041 350.7 L1042.5 351.4 L1044 352.2 L1045.5 352.9 L1047 353.5 L1048.5 354.1 L1050 354.6 L1051.5 355.1 L1053 355.4 L1054.5 355.8 L1056 356 L1057.5 356.2 L1059 356.3 L1060.5 356.3 L1062 356.2 L1063.5 356.1 L1065 355.8 L1066.2 355.5" stroke="#ff0000"/>
<path d="M655 378 L656.2 374.2 L657.8 374.2 L659.2 374.2 L660.8 374.2 L662.2 374.3 L663.8 374.3 L665.2 374.3 L666.8 374.3 L668.2 374.3 L669.8 374.4 L671.2 374.4 L672.8 374.4 L674.2 374.4 L675.8 374.4 L677.2 374.3 L678.8 374.3 L680.2 374.3 L681.8 374.2 L683.2 374.1 L684.8 374 L686.2 373.9 L687.8 373.7 L689.2 373.5 L690.8 373.3 L692.2 373.1 L693.8 372.8 L695.2 372.5 L696.8 372.2 L698.2 371.9 L699.8 371.5 L701.2 371 L702.8 370.6 L704.2 370.1 L705.8 369.5 L707.2 368.9 L708.8 368.2 L710.2 367.5 L711.8 366.8 L713.2 366 L714.8 365.2 L716.2 364.3 L717.8 363.3 L719.2 362.3 L720.8 361.2 L722.2 360.1 L723.8 358.9 L725.2 357.7 L726.8 356.4 L728.2 355.1 L729.8 353.7 L731.2 352.3 L732.8 350.8 L734.2 349.3 L735.8 347.8 L737.2 346.2 L738.8 344.6 L740.2 342.9 L741.8 341.2 L743.2 339.5 L744.8 337.8 L746.2 336 L747.8 334.2 L749.2 332.4 L750.8 330.5 L752.2 328.6 L753.8 326.7 L755.2 324.8 L756.8 322.8 L758.2 320.9 L759.8 318.9 L761.2 316.9 L762.8 314.9 L764.2 312.9 L765.8 310.9 L767.2 308.9 L768.8 306.8 L770.2 304.8 L771.8 302.7 L773.2 300.7 L774.8 298.7 L776.2 296.6 L777.8 294.6 L779.2 292.6 L780.8 290.6 L782.2 288.6 L783.8 286.6 L785.2 284.6 L786.8 282.7 L788.2 280.7 L789.8 278.8 L791.2 276.9 L792.8 275.1 L794.2 273.2 L795.8 271.4 L797.2 269.7 L798.8 267.9 L800.2 266.2 L801.8 264.4 L803.2 262.7 L804.8 260.9 L806.2 259.2 L807.8 257.4 L809.2 255.5 L810.8 253.6 L812.2 251.7 L813.8 249.7 L815.2 247.7 L816.8 245.7 L818.2 243.7 L819.8 241.7 L821.2 239.6 L822.8 237.6 L824.2 235.6 L825.8 233.7 L827.2 231.8 L828.8 229.9 L830.2 228 L831.8 226.3 L833.2 224.6 L834.8 222.9 L836.2 221.4 L837.8 220 L839.2 218.6 L840.8 217.4 L842.2 216.2 L843.8 215.2 L845.2 214.3 L846.8 213.4 L848.2 212.7 L849.8 212 L851.2 211.3 L852.8 210.8 L854.2 210.2 L855.8 209.7 L857.2 209.3 L858.8 208.9 L860.2 208.5 L861.8 208.1 L863.2 207.7 L864.8 207.3 L866.2 207 L867.8 206.6 L869.2 206.3 L870.8 206 L872.2 205.8 L873.8 205.5 L875.2 205.3 L876.8 205.1 L878.2 205 L879.8 204.9 L881.2 204.8 L882.8 204.7 L884.2 204.7 L885.8 204.8 L887.2 204.8 L888.8 205 L890.2 205.1 L891.8 205.3 L893.2 205.6 L894.8 205.9 L896.2 206.2 L897.8 206.7 L899.2 207.1 L900.8 207.7 L902.2 208.2 L903.8 208.9 L905.2 209.5 L906.8 210.3 L908.2 211 L909.8 211.8 L911.2 212.7 L912.8 213.5 L914.2 214.4 L915.8 215.3 L917.2 216.2 L918.8 217.1 L920.2 218 L921.8 219 L923.2 219.9 L924.8 220.8 L926.2 221.8 L927.8 222.7 L929.2 223.7 L930.8 224.6 L932.2 225.6 L933.8 226.6 L935.2 227.5 L936.8 228.5 L938.2 229.5 L939.8 230.5 L941.2 231.5 L942.8 232.5 L944.2 233.6 L945.8 234.6 L947.2 235.7 L948.8 236.7 L950.2 237.8 L951.8 238.9 L953.2 240 L954.8 241.1 L956.2 242.3 L957.8 243.4 L959.2 244.6 L960.8 245.8 L962.2 247 L963.8 248.2 L965.2 249.4 L966.8 250.7 L968.2 252 L969.8 253.3 L971.2 254.6 L972.8 255.9 L974.2 257.3 L975.8 258.7 L977.2 260.1 L978.8 261.5 L980.2 262.9 L981.8 264.4 L983.2 265.9 L984.8 267.4 L986.2 269 L987.8 270.6 L989.2 272.2 L990.8 273.8 L992.2 275.5 L993.8 277.2 L995.2 278.9 L996.8 280.7 L998.2 282.5 L999.8 284.3 L1001.2 286.2 L1002.8 288.1 L1004.2 290.1 L1005.8 292 L1007.2 294.1 L1008.8 296.1 L1010.2 298.2 L1011.8 300.3 L1013.2 302.4 L1014.8 304.6 L1016.2 306.7 L1017.8 308.9 L1019.2 311.1 L1020.8 313.2 L1022.2 315.4 L1023.8 317.6 L1025.2 319.7 L1026.8 321.8 L1028.2 324 L1029.8 326.1 L1031.2 328.1 L1032.8 330.1 L1034.2 332.1 L1035.8 334.1 L1037.2 336 L1038.8 337.8 L1040.2 339.6 L1041.8 341.3 L1043.2 343 L1044.8 344.6 L1046.2 346.1 L1047.8 347.5 L1049.2 348.9 L1050.8 350.1 L1052.2 351.3 L1053.8 352.4 L1055.2 353.3 L1056.8 354.2 L1058.2 354.8 L1059.8 355.3 L1061.2 355.5 L1062.8 355.4 L1064.2 354.9 L1065.8 354 L1067.2 352.6 L1068 351.8" stroke="#0000ff"/>
<path d="M655.5 242 L656.5 227 L658 226.1 L659.5 225.2 L661 224.4 L662.5 223.6 L664 222.9 L665.5 222.3 L667 221.7 L668.5 221.2 L670 220.7 L671.5 220.3 L673 219.9 L674.5 219.6 L676 219.3 L677.5 219 L679 218.8 L680.5 218.7 L682 218.5 L683.5 218.5 L685 218.4 L686.5 218.4 L688 218.4 L689.5 218.4 L691 218.5 L692.5 218.6 L694 218.7 L695.5 218.9 L697 219.1 L698.5 219.3 L700 219.5 L701.5 219.7 L703 220 L704.5 220.3 L706 220.6 L707.5 220.9 L709 221.2 L710.5 221.5 L712 221.9 L713.5 222.2 L715 222.6 L716.5 223 L718 223.4 L719.5 223.8 L721 224.2 L722.5 224.6 L724 225 L725.5 225.4 L727 225.9 L728.5 226.3 L730 226.7 L731.5 227.1 L733 227.5 L734.5 227.9 L736 228.3 L737.5 228.7 L739 229.1 L740.5 229.5 L742 229.8 L743.5 230.2 L745 230.5 L746.5 230.8 L748 231.2 L749.5 231.4 L751 231.7 L752.5 231.9 L754 232.2 L755.5 232.4 L757 232.5 L758.5 232.7 L760 232.8 L761.5 232.9 L763 233 L764.5 233 L766 233 L767.5 233 L769 232.9 L770.5 232.8 L772 232.7 L773.5 232.5 L775 232.3 L776.5 232 L778 231.7 L779.5 231.3 L781 230.9 L782.5 230.5 L784 230 L785.5 229.5 L787 228.9 L788.5 228.2 L790 227.5 L791.5 226.8 L793 226 L794.5 225.1 L796 224.2 L797.5 223.2 L799 222.1 L800.5 221.1 L802 219.9 L803.5 218.7 L805 217.5 L806.5 216.2 L808 214.9 L809.5 213.6 L811 212.2 L812.5 210.8 L814 209.4 L815.5 207.9 L817 206.4 L818.5 204.9 L820 203.4 L821.5 201.9 L823 200.3 L824.5 198.8 L826 197.2 L827.5 195.7 L829 194.1 L830.5 192.6 L832 191 L833.5 189.5 L835 188.1 L836.5 186.6 L838 185.2 L839.5 183.9 L841 182.6 L842.5 181.3 L844 180.1 L845.5 179 L847 177.9 L848.5 177 L850 176 L851.5 175.2 L853 174.4 L854.5 173.7 L856 173 L857.5 172.3 L859 171.8 L860.5 171.3 L862 170.8 L863.5 170.3 L865 170 L866.5 169.6 L868 169.3 L869.5 169 L871 168.8 L872.5 168.6 L874 168.4 L875.5 168.3 L877 168.2 L878.5 168.1 L880 168.1 L881.5 168.1 L883 168.1 L884.5 168.1 L886 168.2 L887.5 168.3 L889 168.4 L890.5 168.5 L892 168.7 L893.5 168.9 L895 169.1 L896.5 169.4 L898 169.7 L899.5 170 L901 170.4 L902.5 170.8 L904 171.3 L905.5 171.9 L907 172.5 L908.5 173.2 L910 174 L911.5 174.8 L913 175.7 L914.5 176.7 L916 177.7 L917.5 178.8 L919 179.9 L920.5 181 L922 182.1 L923.5 183.3 L925 184.4 L926.5 185.6 L928 186.8 L929.5 188 L931 189.2 L932.5 190.4 L934 191.6 L935.5 192.8 L937 193.9 L938.5 195.1 L940 196.3 L941.5 197.4 L943 198.5 L944.5 199.6 L946 200.6 L947.5 201.7 L949 202.8 L950.5 203.8 L952 204.8 L953.5 205.8 L955 206.8 L956.5 207.8 L958 208.8 L959.5 209.7 L961 210.7 L962.5 211.7 L964 212.6 L965.5 213.5 L967 214.5 L968.5 215.4 L970 216.4 L971.5 217.3 L973 218.2 L974.5 219.2 L976 220.1 L977.5 221 L979 222 L980.5 222.9 L982 223.9 L983.5 224.8 L985 225.8 L986.5 226.8 L988 227.8 L989.5 228.8 L991 229.8 L992.5 230.8 L994 231.8 L995.5 232.8 L997 233.9 L998.5 235 L1000 236.1 L1001.5 237.2 L1003 238.3 L1004.5 239.4 L1006 240.6 L1007.5 241.7 L1009 242.9 L1010.5 244.1 L1012 245.3 L1013.5 246.5 L1015 247.7 L1016.5 248.9 L1018 250.1 L1019.5 251.2 L1021 252.4 L1022.5 253.6 L1024 254.7 L1025.5 255.9 L1027 257 L1028.5 258.1 L1030 259.2 L1031.5 260.3 L1033 261.3 L1034.5 262.3 L1036 263.3 L1037.5 264.2 L1039 265.2 L1040.5 266 L1042 266.9 L1043.5 267.7 L1045 268.4 L1046.5 269.1 L1048 269.8 L1049.5 270.4 L1051 270.9 L1052.5 271.4 L1054 271.6 L1055.5 271.5 L1057 270.9 L1058.5 269.9 L1060 268.2 L1061.5 265.8 L1063 262.5 L1064.5 258.4 L1066 253.2 L1067.5 246.9 L1068 244.5" stroke="#ff00ff"/>
<path d="M655 349.2 L656 341.8 L660 338 L661.5 337.6 L663 337.2 L664.5 336.8 L666 336.5 L667.5 336.2 L669 335.9 L670.5 335.7 L672 335.5 L673.5 335.3 L675 335.1 L676.5 335 L678 334.9 L679.5 334.7 L681 334.7 L682.5 334.6 L684 334.5 L685.5 334.5 L687 334.4 L688.5 334.4 L690 334.4 L691.5 334.4 L693 334.4 L694.5 334.4 L696 334.5 L697.5 334.5 L699 334.5 L700.5 334.5 L702 334.6 L703.5 334.6 L705 334.6 L706.5 334.6 L708 334.7 L709.5 334.7 L711 334.7 L712.5 334.7 L714 334.6 L715.5 334.6 L717 334.6 L718.5 334.5 L720 334.4 L721.5 334.4 L723 334.3 L724.5 334.1 L726 334 L727.5 333.8 L729 333.6 L730.5 333.4 L732 333.2 L733.5 332.9 L735 332.6 L736.5 332.3 L738 332 L739.5 331.6 L741 331.2 L742.5 330.7 L744 330.2 L745.5 329.7 L747 329.1 L748.5 328.4 L750 327.7 L751.5 326.9 L753 326 L754.5 325.1 L756 324.1 L757.5 323 L759 321.8 L760.5 320.5 L762 319.1 L763.5 317.7 L765 316.1 L766.5 314.4 L768 312.6 L769.5 310.7 L771 308.7 L772.5 306.6 L774 304.5 L775.5 302.2 L777 299.9 L778.5 297.5 L780 295.1 L781.5 292.6 L783 290.2 L784.5 287.6 L786 285.1 L787.5 282.6 L789 280.1 L790.5 277.6 L792 275.2 L793.5 272.7 L795 270.3 L796.5 267.8 L798 265.4 L799.5 262.9 L801 260.4 L802.5 257.8 L804 255.3 L805.5 252.7 L807 250 L808.5 247.3 L810 244.5 L811.5 241.6 L813 238.6 L814.5 235.6 L816 232.6 L817.5 229.5 L819 226.4 L820.5 223.3 L822 220.2 L823.5 217.1 L825 214 L826.5 211 L828 208 L829.5 205 L831 202.1 L832.5 199.3 L834 196.6 L835.5 193.9 L837 191.4 L838.5 188.9 L840 186.5 L841.5 184.2 L843 182 L844.5 179.8 L846 177.8 L847.5 175.8 L849 173.8 L850.5 172 L852 170.2 L853.5 168.5 L855 166.8 L856.5 165.2 L858 163.7 L859.5 162.2 L861 160.8 L862.5 159.5 L864 158.2 L865.5 156.9 L867 155.8 L868.5 154.6 L870 153.6 L871.5 152.5 L873 151.5 L874.5 150.6 L876 149.7 L877.5 148.9 L879 148.1 L880.5 147.3 L882 146.6 L883.5 145.9 L885 145.2 L886.5 144.6 L888 144 L889.5 143.5 L891 142.9 L892.5 142.4 L894 141.9 L895.5 141.4 L897 140.9 L898.5 140.4 L900 139.9 L901.5 139.5 L903 139.1 L904.5 138.9 L906 139 L907.5 139.4 L909 140.1 L910.5 140.9 L912 141.8 L913.5 142.7 L915 143.5 L916.5 144.3 L918 145 L919.5 145.7 L921 146.3 L922.5 146.9 L924 147.4 L925.5 147.9 L927 148.4 L928.5 148.8 L930 149.3 L931.5 149.8 L933 150.3 L934.5 150.9 L936 151.5 L937.5 152.1 L939 152.8 L940.5 153.6 L942 154.3 L943.5 155.1 L945 156 L946.5 156.9 L948 157.8 L949.5 158.8 L951 159.8 L952.5 160.8 L954 161.9 L955.5 163 L957 164.1 L958.5 165.3 L960 166.5 L961.5 167.7 L963 169 L964.5 170.2 L966 171.6 L967.5 172.9 L969 174.3 L970.5 175.7 L972 177.1 L973.5 178.6 L975 180.1 L976.5 181.6 L978 183.1 L979.5 184.7 L981 186.2 L982.5 187.8 L984 189.4 L985.5 191.1 L987 192.7 L988.5 194.4 L990 196.1 L991.5 197.8 L993 199.6 L994.5 201.3 L996 203.1 L997.5 204.9 L999 206.7 L1000.5 208.5 L1002 210.4 L1003.5 212.3 L1005 214.2 L1006.5 216.2 L1008 218.2 L1009.5 220.2 L1011 222.2 L1012.5 224.3 L1014 226.4 L1015.5 228.6 L1017 230.7 L1018.5 233 L1020 235.2 L1021.5 237.5 L1023 239.8 L1024.5 242.1 L1026 244.5 L1027.5 246.8 L1029 249.1 L1030.5 251.4 L1032 253.7 L1033.5 256 L1035 258.2 L1036.5 260.4 L1038 262.5 L1039.5 264.6 L1041 266.6 L1042.5 268.6 L1044 270.4 L1045.5 272.3 L1047 274 L1048.5 275.7 L1050 277.4 L1051.5 279 L1053 280.5 L1054.5 281.9 L1056 283.3 L1057.5 284.6 L1059 285.8 L1060.5 286.7 L1062 287.1 L1063.5 286.8 L1065 285.5 L1066.5 283 L1067.8 273" stroke="#006400"/>
<path d="M655 368 L656.5 367.1 L658 366.3 L659.5 365.6 L661 364.8 L662.5 364.1 L664 363.4 L665.5 362.7 L667 362.1 L668.5 361.4 L670 360.8 L671.5 360.2 L673 359.6 L674.5 359 L676 358.5 L677.5 357.9 L679 357.4 L680.5 356.9 L682 356.4 L683.5 355.9 L685 355.4 L686.5 354.9 L688 354.4 L689.5 354 L691 353.5 L692.5 353 L694 352.6 L695.5 352.1 L697 351.7 L698.5 351.2 L700 350.7 L701.5 350.3 L703 349.8 L704.5 349.3 L706 348.8 L707.5 348.3 L709 347.8 L710.5 347.3 L712 346.8 L713.5 346.3 L715 345.7 L716.5 345.2 L718 344.6 L719.5 344 L721 343.4 L722.5 342.7 L724 342 L725.5 341.3 L727 340.6 L728.5 339.8 L730 339 L731.5 338.1 L733 337.2 L734.5 336.2 L736 335.2 L737.5 334.1 L739 333 L740.5 331.8 L742 330.5 L743.5 329.2 L745 327.8 L746.5 326.3 L748 324.8 L749.5 323.1 L751 321.4 L752.5 319.6 L754 317.7 L755.5 315.8 L757 313.7 L758.5 311.6 L760 309.4 L761.5 307.2 L763 304.8 L764.5 302.4 L766 300 L767.5 297.4 L769 294.8 L770.5 292.2 L772 289.5 L773.5 286.7 L775 283.9 L776.5 281 L778 278 L779.5 275 L781 272 L782.5 268.8 L784 265.6 L785.5 262.4 L787 259 L788.5 255.6 L790 252.1 L791.5 248.6 L793 245 L794.5 241.3 L796 237.6 L797.5 233.8 L799 230 L800.5 226.3 L802 222.5 L803.5 218.8 L805 215.1 L806.5 211.4 L808 207.8 L809.5 204.3 L811 200.9 L812.5 197.5 L814 194.2 L815.5 191 L817 187.9 L818.5 184.8 L820 181.8 L821.5 178.8 L823 175.8 L824.5 172.9 L826 170 L827.5 167.1 L829 164.2 L830.5 161.4 L832 158.5 L833.5 155.6 L835 152.7 L836.5 149.8 L838 147 L839.5 144.1 L841 141.4 L842.5 138.6 L844 136 L845.5 133.4 L847 131 L848.5 128.6 L850 126.4 L851.5 124.3 L853 122.3 L854.5 120.4 L856 118.7 L857.5 117.1 L859 115.6 L860.5 114.2 L862 112.8 L863.5 111.6 L865 110.4 L866.5 109.3 L868 108.3 L869.5 107.3 L871 106.4 L872.5 105.5 L874 104.6 L875.5 103.8 L877 103 L878.5 102.3 L880 101.5 L881.5 100.8 L883 100 L884.5 99.3 L886 98.6 L887.5 97.9 L889 97.3 L890.5 96.6 L892 96 L893.5 95.5 L895 95 L896.5 94.6 L898 94.2 L899.5 93.8 L901 93.6 L902.5 93.4 L904 93.3 L905.5 93.4 L907 93.5 L908.5 93.9 L910 94.4 L911.5 95.1 L913 95.8 L914.5 96.6 L916 97.4 L917.5 98.2 L919 99 L920.5 99.7 L922 100.3 L923.5 100.8 L925 101.3 L926.5 101.7 L928 102 L929.5 102.2 L931 102.4 L932.5 102.6 L934 102.9 L935.5 103.2 L937 103.5 L938.5 103.9 L940 104.4 L941.5 104.9 L943 105.5 L944.5 106.1 L946 106.7 L947.5 107.4 L949 108.2 L950.5 109 L952 109.8 L953.5 110.6 L955 111.5 L956.5 112.4 L958 113.4 L959.5 114.3 L961 115.3 L962.5 116.3 L964 117.3 L965.5 118.3 L967 119.3 L968.5 120.4 L970 121.4 L971.5 122.4 L973 123.5 L974.5 124.6 L976 125.7 L977.5 126.8 L979 127.9 L980.5 129 L982 130.2 L983.5 131.4 L985 132.5 L986.5 133.8 L988 135 L989.5 136.2 L991 137.5 L992.5 138.8 L994 140.1 L995.5 141.4 L997 142.8 L998.5 144.2 L1000 145.6 L1001.5 147 L1003 148.5 L1004.5 149.9 L1006 151.5 L1007.5 153 L1009 154.7 L1010.5 156.3 L1012 158 L1013.5 159.8 L1015 161.6 L1016.5 163.5 L1018 165.5 L1019.5 167.5 L1021 169.6 L1022.5 171.7 L1024 174 L1025.5 176.3 L1027 178.6 L1028.5 180.9 L1030 183.3 L1031.5 185.6 L1033 187.9 L1034.5 190.2 L1036 192.4 L1037.5 194.4 L1039 196.4 L1040.5 198.2 L1042 199.9 L1043.5 201.4 L1045 202.7 L1046.5 203.8 L1048 204.7 L1049.5 205.5 L1051 206.2 L1052.5 206.7 L1054 207.2 L1055.5 207.6 L1057 208 L1058.5 208.5 L1060 208.9 L1061.5 209.5 L1063 210.1 L1064.5 210.9 L1066 211.8 L1067.5 212.8 L1068 213.3" stroke="#000080"/>
<path d="M655 310.5 L655.8 300.5 L660 295 L661.5 294.5 L663 294 L664.5 293.6 L666 293.2 L667.5 292.9 L669 292.6 L670.5 292.3 L672 292 L673.5 291.8 L675 291.6 L676.5 291.4 L678 291.3 L679.5 291.2 L681 291.2 L682.5 291.1 L684 291.1 L685.5 291.2 L687 291.2 L688.5 291.3 L690 291.4 L691.5 291.5 L693 291.7 L694.5 291.9 L696 292.1 L697.5 292.3 L699 292.6 L700.5 292.9 L702 293.2 L703.5 293.5 L705 293.9 L706.5 294.3 L708 294.7 L709.5 295.1 L711 295.6 L712.5 296 L714 296.5 L715.5 297 L717 297.5 L718.5 298.1 L720 298.6 L721.5 299.2 L723 299.8 L724.5 300.4 L726 301 L727.5 301.7 L729 302.3 L730.5 303 L732 303.6 L733.5 304.2 L735 304.9 L736.5 305.5 L738 306.1 L739.5 306.7 L741 307.3 L742.5 307.9 L744 308.5 L745.5 309 L747 309.5 L748.5 310 L750 310.4 L751.5 310.8 L753 311.2 L754.5 311.5 L756 311.8 L757.5 312.1 L759 312.3 L760.5 312.4 L762 312.5 L763.5 312.5 L765 312.5 L766.5 312.4 L768 312.2 L769.5 312 L771 311.7 L772.5 311.3 L774 310.8 L775.5 310.3 L777 309.7 L778.5 309 L780 308.2 L781.5 307.3 L783 306.3 L784.5 305.2 L786 304.1 L787.5 302.8 L789 301.4 L790.5 300 L792 298.4 L793.5 296.7 L795 295 L796.5 293.1 L798 291.2 L799.5 289.1 L801 287 L802.5 284.8 L804 282.4 L805.5 280 L807 277.4 L808.5 274.8 L810 272.1 L811.5 269.2 L813 266.3 L814.5 263.3 L816 260.2 L817.5 256.9 L819 253.6 L820.5 250.2 L822 246.7 L823.5 243 L825 239.3 L826.5 235.5 L828 231.6 L829.5 227.7 L831 223.7 L832.5 219.7 L834 215.6 L835.5 211.5 L837 207.5 L838.5 203.4 L840 199.4 L841.5 195.4 L843 191.5 L844.5 187.7 L846 183.9 L847.5 180.1 L849 176.4 L850.5 172.8 L852 169.2 L853.5 165.6 L855 162.1 L856.5 158.5 L858 155.1 L859.5 151.6 L861 148.1 L862.5 144.7 L864 141.3 L865.5 137.9 L867 134.6 L868.5 131.3 L870 128 L871.5 124.8 L873 121.6 L874.5 118.5 L876 115.4 L877.5 112.4 L879 109.4 L880.5 106.6 L882 103.8 L883.5 101 L885 98.4 L886.5 95.8 L888 93.3 L889.5 90.9 L891 88.7 L892.5 86.5 L894 84.4 L895.5 82.4 L897 80.5 L898.5 78.8 L900 77.1 L901.5 75.6 L903 74.2 L904.5 73 L906 71.8 L907.5 70.7 L909 69.7 L910.5 68.8 L912 68 L913.5 67.2 L915 66.5 L916.5 65.9 L918 65.4 L919.5 64.8 L921 64.4 L922.5 63.9 L924 63.5 L925.5 63.1 L927 62.7 L928.5 62.4 L930 62 L931.5 61.7 L933 61.4 L934.5 61.1 L936 60.9 L937.5 60.6 L939 60.4 L940.5 60.2 L942 60.1 L943.5 59.9 L945 59.8 L946.5 59.7 L948 59.7 L949.5 59.6 L951 59.6 L952.5 59.7 L954 59.7 L955.5 59.8 L957 59.9 L958.5 60 L960 60.2 L961.5 60.4 L963 60.6 L964.5 60.9 L966 61.2 L967.5 61.5 L969 61.9 L970.5 62.3 L972 62.7 L973.5 63.2 L975 63.7 L976.5 64.2 L978 64.7 L979.5 65.3 L981 66 L982.5 66.6 L984 67.3 L985.5 68 L987 68.8 L988.5 69.6 L990 70.4 L991.5 71.3 L993 72.2 L994.5 73.1 L996 74 L997.5 75 L999 76.1 L1000.5 77.1 L1002 78.2 L1003.5 79.4 L1005 80.5 L1006.5 81.8 L1008 83 L1009.5 84.3 L1011 85.6 L1012.5 86.9 L1014 88.3 L1015.5 89.7 L1017 91.2 L1018.5 92.7 L1020 94.2 L1021.5 95.8 L1023 97.4 L1024.5 99 L1026 100.7 L1027.5 102.4 L1029 104.1 L1030.5 105.8 L1032 107.5 L1033.5 109.2 L1035 110.8 L1036.5 112.5 L1038 114.1 L1039.5 115.7 L1041 117.3 L1042.5 118.8 L1044 120.2 L1045.5 121.6 L1047 122.9 L1048.5 124.1 L1050 125.3 L1051.5 126.3 L1053 127.3 L1054.5 128.2 L1056 129.1 L1057.5 130 L1059 130.9 L1060.5 131.9 L1062 132.9 L1063.5 134 L1065 135.2 L1066.5 136.5 L1068 138" stroke="#8000ff"/>
</g>
<rect x="655" y="33.8" width="413" height="466.2" fill="none" stroke="#222222" stroke-width="1.7"/>
<path d="M655 500 v4 M692.5 500 v8 M730.1 500 v4 M767.6 500 v8 M805.2 500 v4 M842.7 500 v8 M880.3 500 v4 M917.8 500 v8 M955.4 500 v4 M992.9 500 v8 M1030.5 500 v4 M1068 500 v8 M655 500 h-10 M655 461.1 h-5 M655 422.3 h-10 M655 383.4 h-5 M655 344.6 h-10 M655 305.8 h-5 M655 266.9 h-10 M655 228.1 h-5 M655 189.2 h-10 M655 150.4 h-5 M655 111.5 h-10 M655 72.6 h-5 M655 33.8 h-10" stroke="#222222" stroke-width="1.7" fill="none"/>
<g font-family='"Liberation Sans", sans-serif' font-size="31" fill="#000" stroke="#000" stroke-width="0.3">
<text x="691.5" y="539" text-anchor="middle">400</text>
<text x="766.6" y="539" text-anchor="middle">500</text>
<text x="841.7" y="539" text-anchor="middle">600</text>
<text x="916.8" y="539" text-anchor="middle">700</text>
<text x="991.9" y="539" text-anchor="middle">800</text>
<text x="1067" y="539" text-anchor="middle">900</text>
<text x="637.5" y="510" text-anchor="end">0.0</text>
<text x="637.5" y="432.3" text-anchor="end">0.1</text>
<text x="637.5" y="354.6" text-anchor="end">0.2</text>
<text x="637.5" y="276.9" text-anchor="end">0.3</text>
<text x="637.5" y="199.2" text-anchor="end">0.4</text>
<text x="637.5" y="121.5" text-anchor="end">0.5</text>
<text x="637.5" y="43.8" text-anchor="end">0.6</text>
<text x="861" y="577.3" text-anchor="middle" font-size="31.4">Wavelength (nm)</text>
<text transform="translate(580.3 271) rotate(-90)" text-anchor="middle">Reflectance</text>
</g>
<text x="538" y="38" font-family='"Liberation Sans", sans-serif' font-size="42" font-weight="bold" fill="#000">(c)</text>
<text x="666.5" y="70.5" font-family='"Liberation Sans", sans-serif' font-size="26.8" fill="#000" stroke="#000" stroke-width="0.3"><tspan font-style="italic">d</tspan>=40 nm</text>
<g font-family='"Liberation Sans", sans-serif' font-size="26.8" fill="#000" stroke="#000" stroke-width="0.3">
<path d="M797.5 328 H851" stroke="#000000" stroke-width="3.2" fill="none"/>
<text x="856" y="335">0 mA</text>
<path d="M797.5 362.2 H851" stroke="#ff0000" stroke-width="3.2" fill="none"/>
<text x="856.3" y="368.5">100 mA</text>
<path d="M797.5 395.8 H851" stroke="#0000ff" stroke-width="3.2" fill="none"/>
<text x="856.3" y="402.7">150 mA</text>
<path d="M798.8 424 H852.5" stroke="#ff00ff" stroke-width="3.2" fill="none"/>
<text x="857.8" y="431">200 mA</text>
<path d="M798.8 456.8 H852.5" stroke="#006400" stroke-width="3.2" fill="none"/>
<text x="857.8" y="464.5">250 mA</text>
<path d="M668.8 482.3 H722.5" stroke="#000080" stroke-width="3.2" fill="none"/>
<text x="727.8" y="489">280 mA</text>
<path d="M845 483.5 H898.8" stroke="#8000ff" stroke-width="3.2" fill="none"/>
<text x="903.6" y="490.2">300 mA</text>
</g>
</g>
<g id="pb">
<text x="0.3" y="619" font-family='"Liberation Sans", sans-serif' font-size="40.8" font-weight="bold" fill="#000">(b)</text>
<g filter="url(#soft)">
<rect x="98" y="615.5" width="432.4" height="293.5" fill="#060606" />
<rect x="105" y="621.2" width="125.5" height="281.8" fill="url(#b1bg)" />
<rect x="137.8" y="649" width="60" height="254" fill="url(#b1st)" />
<g filter="url(#soft2)">
<path d="M163 652 L176 652 L172 672 L180 690 L176 706 L170 722 L158 706 L162 690 L166 676 Z" fill="#7e8060" opacity="0.75"/>
<path d="M139 650 H160 L164 668 L158 688 L152 700 L139 704 Z" fill="#4e5254" opacity="0.7"/>
<path d="M178 650 H197 V716 L184 706 L180 684 Z" fill="#55585a" opacity="0.7"/>
<path d="M139 730 L170 726 L178 760 L168 790 L150 800 L139 790 Z" fill="#5a5240" opacity="0.6"/>
<path d="M139 830 L165 822 L197 835 V903 H139 Z" fill="#6a6e6a" opacity="0.6"/>
</g>
<rect x="229.4" y="621.2" width="4.2" height="251.8" fill="#2a3a24" />
<rect x="233.5" y="621.2" width="9.1" height="281.8" fill="#ffffff" />
<rect x="242.6" y="621.2" width="137.9" height="281.8" fill="url(#b2bg)" />
<rect x="242.6" y="621.2" width="8.4" height="281.8" fill="#637c64" />
<rect x="250.2" y="621.2" width="1.2" height="281.8" fill="#5c6c48" />
<rect x="242.6" y="621.2" width="137.9" height="30.8" fill="#9a9a50" opacity="0.5"/>
<rect x="282" y="652" width="60.8" height="251" fill="url(#b2st)" />
<rect x="374.6" y="621.2" width="5.9" height="250.8" fill="#6c8058" />
<rect x="380.3" y="621.2" width="9.4" height="281.8" fill="#ffffff" />
<rect x="389.7" y="621.2" width="134.9" height="281.8" fill="url(#b3bg)" />
<rect x="389.7" y="621.2" width="8.8" height="251.8" fill="#988a42" />
<rect x="389.7" y="621.2" width="135.1" height="29.8" fill="#c09030" opacity="0.55"/>
<rect x="428.9" y="652" width="59.5" height="251" fill="url(#b3st)" />
<rect x="519.6" y="621.2" width="5" height="281.8" fill="#b09438" />
<rect x="105" y="621.2" width="420" height="281.8" filter="url(#grain)" opacity="0.10"/>
<rect x="233.5" y="621.2" width="9.1" height="281.8" fill="#ffffff" />
<rect x="380.3" y="621.2" width="9.4" height="281.8" fill="#ffffff" />
<ellipse cx="308.5" cy="667" rx="1.3" ry="2.3" fill="#2a1a10" opacity="0.85"/><ellipse cx="311" cy="722" rx="1" ry="1" fill="#2a1a10" opacity="0.85"/><ellipse cx="317" cy="749" rx="1.3" ry="1.3" fill="#2a1a10" opacity="0.85"/><ellipse cx="278" cy="845" rx="2.5" ry="1.6" fill="#2a1a10" opacity="0.85"/><ellipse cx="352" cy="723" rx="1.8" ry="1.8" fill="#2a1a10" opacity="0.85"/><ellipse cx="428" cy="816" rx="1.3" ry="1.3" fill="#2a1a10" opacity="0.85"/><ellipse cx="518" cy="763" rx="1.6" ry="1.8" fill="#2a1a10" opacity="0.85"/><ellipse cx="516" cy="627" rx="1.4" ry="1.4" fill="#2a1a10" opacity="0.85"/><ellipse cx="402" cy="744" rx="2.2" ry="1.4" fill="#2a1a10" opacity="0.85"/><ellipse cx="140" cy="800" rx="1.2" ry="1.2" fill="#2a1a10" opacity="0.85"/><ellipse cx="167" cy="837" rx="1.2" ry="1.2" fill="#2a1a10" opacity="0.85"/><ellipse cx="139.5" cy="856" rx="1.3" ry="2" fill="#2a1a10" opacity="0.85"/>
<ellipse cx="308.6" cy="667" rx="0.7" ry="1.6" fill="#e8a020" opacity="0.9"/><ellipse cx="403" cy="747" rx="1.5" ry="0.9" fill="#e8a020" opacity="0.9"/>
<rect x="458.5" y="857" width="65.1" height="13.3" fill="#ffffff" />
</g>
<g font-family='"Liberation Sans", sans-serif' font-weight="bold" fill="#fff" filter="url(#soft)">
<text x="111" y="650.5" font-size="32.3">0 mA</text>
<text x="248.3" y="650.5" font-size="32.3">200 mA</text>
<text x="398.8" y="650.5" font-size="32.3">300 mA</text>
<text x="455.5" y="892.8" font-size="23.4" stroke="#fff" stroke-width="0.6" font-weight="normal">50 µm</text>
</g>
<text transform="translate(105.6 895.2) scale(1 1.07)" x="0" y="0" font-family='"Liberation Sans", sans-serif' font-size="32.8" font-weight="bold" fill="#000" stroke="#000" stroke-width="0.3" filter="url(#soft)"><tspan font-style="italic">d</tspan> = 30 nm</text>
</g>
<g id="pd">
<text x="564" y="619.3" font-family='"Liberation Sans", sans-serif' font-size="41.2" font-weight="bold" fill="#000">(d)</text>
<g filter="url(#soft)">
<rect x="630.7" y="612.2" width="435.3" height="294.3" fill="#060606" />
<rect x="636.4" y="618.4" width="127.6" height="282" fill="#ffff0e" />
<rect x="636.4" y="618.4" width="7" height="253.6" fill="#d29a50" />
<rect x="642.6" y="618.4" width="1.2" height="253.6" fill="#d86a30" />
<rect x="670.8" y="649" width="54.7" height="251.4" fill="#c98f4b" />
<rect x="670.6" y="649" width="1.4" height="251.4" fill="#c4703c" />
<rect x="724.3" y="649" width="1.5" height="251.4" fill="#c4703c" />
<rect x="670.8" y="648.6" width="54.7" height="1.4" fill="#c4703c" />
<rect x="752.6" y="618.4" width="11.4" height="253.6" fill="#c88e4a" />
<rect x="752.4" y="618.4" width="1.4" height="253.6" fill="#c4703c" />
<rect x="763.9" y="618.4" width="25.9" height="282" fill="#ffffff" />
<rect x="789.7" y="618.4" width="124.6" height="282" fill="url(#d2l)" />
<rect x="789.7" y="618.4" width="6.9" height="254.6" fill="#c8904c" />
<rect x="878" y="618.4" width="36.3" height="282" fill="url(#d2r)" />
<rect x="825" y="650" width="53.2" height="250.4" fill="url(#d2st)" />
<rect x="906.4" y="618.4" width="8" height="254.6" fill="#b48844" />
<rect x="904.6" y="618.4" width="2.2" height="254.6" fill="#5a2c18" opacity="0.55"/>
<rect x="914.3" y="618.4" width="25.2" height="282" fill="#ffffff" />
<rect x="939.4" y="618.4" width="121.2" height="282" fill="url(#d3bg)" />
<rect x="939.4" y="618.4" width="7.4" height="282" fill="#724a1a" />
<rect x="974.2" y="648" width="54.4" height="252.4" fill="url(#d3st)" />
<rect x="1055.2" y="618.4" width="5.4" height="282" fill="#7c4a18" />
<rect x="1028.2" y="648" width="1.6" height="252.4" fill="#5a2410" opacity="0.6"/>
<rect x="636" y="618.4" width="425" height="282" filter="url(#grain)" opacity="0.04"/>
<rect x="763.9" y="618.4" width="25.9" height="282" fill="#ffffff" />
<rect x="914.3" y="618.4" width="25.2" height="282" fill="#ffffff" />
<g filter="url(#soft4)">
<ellipse cx="851" cy="748" rx="17" ry="22" fill="#74767c" opacity="0.5"/>
</g>
<g filter="url(#soft2)">
<path d="M836 736 q6 -6 12 -2 q8 -8 16 -6 q4 6 -2 12 q-8 8 -18 6 q-6 2 -8 -10 Z" fill="#505860" opacity="0.3"/>
<path d="M800 630 q10 6 18 18 q-8 -2 -14 -8 Z" fill="#5a2008" opacity="0.55"/>
</g>
<ellipse cx="905.4" cy="640" rx="1.7" ry="2.7" fill="#3a1408" opacity="0.7"/><ellipse cx="905.5" cy="646.6" rx="1.7" ry="1.7" fill="#3a1408" opacity="0.7"/><ellipse cx="905.9" cy="653.4" rx="2" ry="1.5" fill="#3a1408" opacity="0.7"/><ellipse cx="904.3" cy="659.3" rx="2" ry="2.4" fill="#3a1408" opacity="0.7"/><ellipse cx="906.9" cy="664" rx="2.2" ry="2.3" fill="#3a1408" opacity="0.7"/><ellipse cx="904.5" cy="671.2" rx="1" ry="2.1" fill="#3a1408" opacity="0.7"/><ellipse cx="904.6" cy="676" rx="1.3" ry="1.4" fill="#3a1408" opacity="0.7"/><ellipse cx="905.3" cy="682.6" rx="2" ry="2.1" fill="#3a1408" opacity="0.7"/><ellipse cx="905.5" cy="690" rx="1.8" ry="2" fill="#3a1408" opacity="0.7"/><ellipse cx="907" cy="695.7" rx="2.2" ry="2.6" fill="#3a1408" opacity="0.7"/><ellipse cx="904.9" cy="703.4" rx="1.3" ry="1.8" fill="#3a1408" opacity="0.7"/><ellipse cx="906.3" cy="708.2" rx="1.5" ry="2.6" fill="#3a1408" opacity="0.7"/><ellipse cx="906.9" cy="714.5" rx="2" ry="1.4" fill="#3a1408" opacity="0.7"/><ellipse cx="906.7" cy="719.9" rx="1.6" ry="2.8" fill="#3a1408" opacity="0.7"/><ellipse cx="904.2" cy="726.2" rx="1.8" ry="2.5" fill="#3a1408" opacity="0.7"/><ellipse cx="904.3" cy="731.9" rx="1.4" ry="2.7" fill="#3a1408" opacity="0.7"/><ellipse cx="904.4" cy="739.8" rx="1.3" ry="1.5" fill="#3a1408" opacity="0.7"/><ellipse cx="906.4" cy="744.6" rx="1.2" ry="2.2" fill="#3a1408" opacity="0.7"/><ellipse cx="904.6" cy="751.1" rx="1.9" ry="1.6" fill="#3a1408" opacity="0.7"/><ellipse cx="904.3" cy="758.5" rx="1.5" ry="1.7" fill="#3a1408" opacity="0.7"/><ellipse cx="906.9" cy="764.2" rx="2" ry="1.8" fill="#3a1408" opacity="0.7"/><ellipse cx="904.6" cy="772.7" rx="1.5" ry="2.6" fill="#3a1408" opacity="0.7"/><ellipse cx="904.3" cy="780.1" rx="2.2" ry="1.7" fill="#3a1408" opacity="0.7"/><ellipse cx="906.3" cy="785.7" rx="1.4" ry="1.8" fill="#3a1408" opacity="0.7"/><ellipse cx="904.3" cy="790.6" rx="1.7" ry="1.7" fill="#3a1408" opacity="0.7"/><ellipse cx="905.1" cy="797.8" rx="1.5" ry="2.7" fill="#3a1408" opacity="0.7"/><ellipse cx="905.7" cy="804.4" rx="2" ry="1.7" fill="#3a1408" opacity="0.7"/><ellipse cx="906.7" cy="809.6" rx="2" ry="1.7" fill="#3a1408" opacity="0.7"/>
<ellipse cx="1030" cy="760" rx="1.8" ry="1.8" fill="#4a1808" opacity="0.5"/><ellipse cx="1030.3" cy="767.9" rx="1.5" ry="2" fill="#4a1808" opacity="0.5"/><ellipse cx="1028.6" cy="773.2" rx="1.8" ry="1.8" fill="#4a1808" opacity="0.5"/><ellipse cx="1029" cy="780.3" rx="1.7" ry="2.2" fill="#4a1808" opacity="0.5"/><ellipse cx="1028.9" cy="786.2" rx="1.6" ry="1.7" fill="#4a1808" opacity="0.5"/><ellipse cx="1029.6" cy="791.8" rx="1.7" ry="2.2" fill="#4a1808" opacity="0.5"/><ellipse cx="1030.3" cy="797.7" rx="1.2" ry="1.6" fill="#4a1808" opacity="0.5"/><ellipse cx="1029.4" cy="803.5" rx="1" ry="1.8" fill="#4a1808" opacity="0.5"/><ellipse cx="1029.6" cy="809.6" rx="1.1" ry="2" fill="#4a1808" opacity="0.5"/><ellipse cx="1030.5" cy="817.3" rx="1.5" ry="2.3" fill="#4a1808" opacity="0.5"/><ellipse cx="1028.8" cy="824" rx="1" ry="1.6" fill="#4a1808" opacity="0.5"/><ellipse cx="1029.9" cy="831.8" rx="1.8" ry="1.6" fill="#4a1808" opacity="0.5"/><ellipse cx="1029.5" cy="838.7" rx="1.6" ry="1.9" fill="#4a1808" opacity="0.5"/><ellipse cx="1028.7" cy="846.7" rx="1.4" ry="2.3" fill="#4a1808" opacity="0.5"/><ellipse cx="1030" cy="854.4" rx="1.6" ry="2.4" fill="#4a1808" opacity="0.5"/><ellipse cx="1029.2" cy="862.1" rx="1.5" ry="2.5" fill="#4a1808" opacity="0.5"/><ellipse cx="1029.3" cy="869.7" rx="1.6" ry="2.5" fill="#4a1808" opacity="0.5"/><ellipse cx="1029.7" cy="876.4" rx="1.3" ry="2.2" fill="#4a1808" opacity="0.5"/>
<ellipse cx="676" cy="718" rx="2.6" ry="2.6" fill="#2a1208" opacity="0.8"/><ellipse cx="700" cy="728" rx="1.4" ry="1.4" fill="#2a1208" opacity="0.8"/><ellipse cx="714" cy="732" rx="1.6" ry="1.6" fill="#2a1208" opacity="0.8"/><ellipse cx="688" cy="826" rx="5" ry="1.6" fill="#2a1208" opacity="0.8"/><ellipse cx="761" cy="752" rx="1.6" ry="1.6" fill="#2a1208" opacity="0.8"/><ellipse cx="808" cy="734" rx="2.2" ry="1.4" fill="#2a1208" opacity="0.8"/><ellipse cx="826" cy="800" rx="1.6" ry="1.6" fill="#2a1208" opacity="0.8"/><ellipse cx="837" cy="818" rx="1.6" ry="1.6" fill="#2a1208" opacity="0.8"/><ellipse cx="848" cy="828" rx="1.8" ry="1.8" fill="#2a1208" opacity="0.8"/><ellipse cx="861" cy="818" rx="1.4" ry="1.4" fill="#2a1208" opacity="0.8"/><ellipse cx="824" cy="853" rx="1.8" ry="3.5" fill="#2a1208" opacity="0.8"/><ellipse cx="871" cy="850" rx="3.5" ry="6" fill="#2a1208" opacity="0.8"/><ellipse cx="878" cy="868" rx="4.5" ry="7.5" fill="#2a1208" opacity="0.8"/><ellipse cx="888" cy="846" rx="3.5" ry="3" fill="#2a1208" opacity="0.8"/><ellipse cx="896" cy="852" rx="2.5" ry="2.5" fill="#2a1208" opacity="0.8"/><ellipse cx="907" cy="690" rx="2.2" ry="2.2" fill="#2a1208" opacity="0.8"/><ellipse cx="906" cy="705" rx="3" ry="3" fill="#2a1208" opacity="0.8"/><ellipse cx="905" cy="730" rx="2.4" ry="3.4" fill="#2a1208" opacity="0.8"/><ellipse cx="906" cy="770" rx="2" ry="4" fill="#2a1208" opacity="0.8"/><ellipse cx="905" cy="812" rx="2" ry="3" fill="#2a1208" opacity="0.8"/><ellipse cx="950" cy="790" rx="2.2" ry="2.2" fill="#2a1208" opacity="0.8"/><ellipse cx="948" cy="796" rx="3" ry="3.4" fill="#2a1208" opacity="0.8"/><ellipse cx="957" cy="778" rx="2" ry="2" fill="#2a1208" opacity="0.8"/><ellipse cx="956" cy="800" rx="1.8" ry="1.8" fill="#2a1208" opacity="0.8"/><ellipse cx="948" cy="730" rx="2" ry="2" fill="#2a1208" opacity="0.8"/><ellipse cx="951" cy="870" rx="4" ry="1.6" fill="#2a1208" opacity="0.8"/><ellipse cx="1052" cy="718" rx="2" ry="2" fill="#2a1208" opacity="0.8"/><ellipse cx="1054" cy="690" rx="1.6" ry="1.6" fill="#2a1208" opacity="0.8"/><ellipse cx="929" cy="859.5" rx="1.4" ry="1.4" fill="#2a1208" opacity="0.8"/>
<rect x="1001.8" y="863.9" width="55.1" height="11.9" fill="#ffffff" />
</g>
<g font-family='"Liberation Sans", sans-serif' font-weight="bold" fill="#fff" filter="url(#soft)">
<text x="651.8" y="648.8" font-size="32.3">0 mA</text>
<text x="794" y="648.8" font-size="32.3">200 mA</text>
<text x="941.5" y="648.8" font-size="32.3">300 mA</text>
<text x="990.3" y="897.8" font-size="21.8">50 µm</text>
</g>
<text transform="translate(639.2 894.1) scale(1 1.07)" x="0" y="0" font-family='"Liberation Sans", sans-serif' font-size="32.7" font-weight="bold" fill="#000" stroke="#000" stroke-width="0.3" filter="url(#soft)"><tspan font-style="italic">d</tspan> = 40 nm</text>
</g>
<g id="pe">
<text x="1093" y="234.6" font-family='"Liberation Sans", sans-serif' font-size="41.3" font-weight="bold" fill="#000">(e)</text>
<g id="e1" filter="url(#soft)">
<rect x="1111.7" y="250.8" width="320.5" height="215" fill="#c4c5bc" />
<rect x="1130.7" y="250.8" width="107.9" height="62.4" fill="#5a6db0" />
<rect x="1254.9" y="250.8" width="28" height="137.2" fill="#5a6db0" />
<rect x="1298.6" y="250.8" width="107.9" height="61.8" fill="#5a6db0" />
<rect x="1111.7" y="329.2" width="320.5" height="29.2" fill="#5a6db0" />
<rect x="1132.2" y="375" width="106.4" height="90.8" fill="#5a6db0" />
<rect x="1254.9" y="375.9" width="28" height="89.8" fill="#5a6db0" />
<rect x="1298.6" y="375" width="107.9" height="90.8" fill="#5a6db0" />
<rect x="1111.7" y="250.8" width="320.5" height="215" fill="url(#vig)" />
<rect x="1228.2" y="301.5" width="38.1" height="37.5" fill="#b88aa8" rx="1.5" opacity="0.75"/>
<rect x="1229.2" y="302.6" width="36" height="34.8" fill="url(#sqp)" rx="1"/>
<rect x="1273.4" y="301.5" width="39" height="37.5" fill="#b88aa8" rx="1.5" opacity="0.75"/>
<rect x="1274.4" y="302.6" width="36.9" height="34.8" fill="url(#sqp)" rx="1"/>
<rect x="1228.2" y="346.8" width="39" height="38.4" fill="#b88aa8" rx="1.5" opacity="0.75"/>
<rect x="1229.2" y="347.9" width="36.9" height="35.7" fill="url(#sqp)" rx="1"/>
<rect x="1273.4" y="346.8" width="39" height="38.4" fill="#b88aa8" rx="1.5" opacity="0.75"/>
<rect x="1274.4" y="347.9" width="36.9" height="35.7" fill="url(#sqp)" rx="1"/>
<ellipse cx="1120.2" cy="271.9" rx="1" ry="1" fill="#181824" opacity="0.6"/><ellipse cx="1191" cy="331.9" rx="1" ry="1" fill="#181824" opacity="0.6"/><ellipse cx="1175.9" cy="358.1" rx="1" ry="1" fill="#181824" opacity="0.6"/><ellipse cx="1193.4" cy="355.7" rx="1" ry="1" fill="#181824" opacity="0.6"/><ellipse cx="1194.9" cy="385.3" rx="1" ry="1" fill="#181824" opacity="0.6"/><ellipse cx="1314.9" cy="288.5" rx="1" ry="1" fill="#181824" opacity="0.6"/><ellipse cx="1339.9" cy="297.2" rx="1.2" ry="1.2" fill="#181824" opacity="0.6"/><ellipse cx="1381.3" cy="361.1" rx="0.9" ry="0.9" fill="#181824" opacity="0.6"/><ellipse cx="1386.4" cy="379.5" rx="0.9" ry="0.9" fill="#181824" opacity="0.6"/><ellipse cx="1118" cy="437.1" rx="1.4" ry="1.4" fill="#181824" opacity="0.6"/><ellipse cx="1188.9" cy="445.9" rx="0.9" ry="0.9" fill="#181824" opacity="0.6"/><ellipse cx="1228.1" cy="441" rx="1" ry="1" fill="#181824" opacity="0.6"/><ellipse cx="1361.4" cy="435.6" rx="0.9" ry="0.9" fill="#181824" opacity="0.6"/><ellipse cx="1366.8" cy="435.6" rx="0.9" ry="0.9" fill="#181824" opacity="0.6"/><ellipse cx="1246.5" cy="373.5" rx="0.9" ry="0.9" fill="#181824" opacity="0.6"/><ellipse cx="1307.1" cy="324" rx="0.9" ry="0.9" fill="#181824" opacity="0.6"/>
<rect x="1390" y="451.3" width="40.7" height="13.6" fill="#ffffff" />
<text transform="translate(1431.9 444.9) scale(0.9 1)" x="0" y="0" text-anchor="end" font-family='"Liberation Sans", sans-serif' font-size="21.2" fill="#fff" stroke="#fff" stroke-width="0.4">500µm</text>
</g>
<g id="e2" filter="url(#soft)">
<rect x="1453.5" y="250.8" width="321.7" height="215" fill="#c4c5bc" />
<rect x="1480.6" y="250.8" width="107.6" height="62.4" fill="#6475ba" />
<rect x="1604.2" y="250.8" width="28.3" height="137.2" fill="#6475ba" />
<rect x="1648.6" y="250.8" width="107.6" height="62.4" fill="#6475ba" />
<rect x="1453.5" y="329.8" width="321.7" height="28.6" fill="#6475ba" />
<rect x="1481.2" y="375" width="107" height="90.8" fill="#6475ba" />
<rect x="1604.2" y="375.9" width="28.3" height="89.8" fill="#6475ba" />
<rect x="1648.6" y="375" width="107.6" height="90.8" fill="#6475ba" />
<rect x="1453.5" y="250.8" width="321.7" height="215" fill="url(#vig)" />
<rect x="1577.7" y="301.4" width="37.4" height="38.3" fill="#8c8cd0" rx="1.5" opacity="0.8"/>
<rect x="1578.9" y="302.8" width="35" height="35.7" fill="url(#sqb)" rx="1"/>
<rect x="1623" y="301.5" width="39.3" height="38.4" fill="#b88aa8" rx="1.5" opacity="0.75"/>
<rect x="1624" y="302.6" width="37.2" height="35.7" fill="url(#sqp)" rx="1"/>
<rect x="1577.8" y="346.8" width="38.4" height="38.4" fill="#b88aa8" rx="1.5" opacity="0.75"/>
<rect x="1578.8" y="347.9" width="36.3" height="35.7" fill="url(#sqp)" rx="1"/>
<rect x="1623" y="346.8" width="38.7" height="38.4" fill="#b88aa8" rx="1.5" opacity="0.75"/>
<rect x="1624" y="347.9" width="36.6" height="35.7" fill="url(#sqp)" rx="1"/>
<ellipse cx="1540.3" cy="331.9" rx="1" ry="1" fill="#181824" opacity="0.6"/><ellipse cx="1524.9" cy="358.1" rx="1" ry="1" fill="#181824" opacity="0.6"/><ellipse cx="1543.6" cy="356.3" rx="1" ry="1" fill="#181824" opacity="0.6"/><ellipse cx="1543.9" cy="385.6" rx="1" ry="1" fill="#181824" opacity="0.6"/><ellipse cx="1757.4" cy="274.9" rx="1" ry="1" fill="#181824" opacity="0.6"/><ellipse cx="1731.2" cy="361.7" rx="0.9" ry="0.9" fill="#181824" opacity="0.6"/><ellipse cx="1736" cy="380.1" rx="0.9" ry="0.9" fill="#181824" opacity="0.6"/><ellipse cx="1466.2" cy="437.1" rx="1.4" ry="1.4" fill="#181824" opacity="0.6"/><ellipse cx="1456.5" cy="424.1" rx="0.9" ry="0.9" fill="#181824" opacity="0.6"/><ellipse cx="1537.9" cy="445.9" rx="0.9" ry="0.9" fill="#181824" opacity="0.6"/><ellipse cx="1577.1" cy="441" rx="1" ry="1" fill="#181824" opacity="0.6"/><ellipse cx="1710.4" cy="436.2" rx="0.9" ry="0.9" fill="#181824" opacity="0.6"/><ellipse cx="1715.8" cy="436.2" rx="0.9" ry="0.9" fill="#181824" opacity="0.6"/><ellipse cx="1584.3" cy="445.3" rx="0.8" ry="0.8" fill="#181824" opacity="0.6"/>
<rect x="1733.9" y="451.3" width="40.4" height="13.6" fill="#ffffff" />
<text transform="translate(1775.2 444) scale(0.9 1)" x="0" y="0" text-anchor="end" font-family='"Liberation Sans", sans-serif' font-size="21.2" fill="#fff" stroke="#fff" stroke-width="0.4">500µm</text>
</g>
<g id="e3" filter="url(#soft)">
<rect x="1111.1" y="484.6" width="319.6" height="214.1" fill="#c4c5bc" />
<rect x="1130.1" y="484.6" width="107.6" height="61.8" fill="#5a6db0" />
<rect x="1253.7" y="484.6" width="27.7" height="136.3" fill="#5a6db0" />
<rect x="1297.4" y="484.6" width="107.6" height="61.8" fill="#5a6db0" />
<rect x="1111.1" y="562.1" width="319.6" height="29.2" fill="#5a6db0" />
<rect x="1131.3" y="607.9" width="106.4" height="90.8" fill="#5a6db0" />
<rect x="1253.7" y="608.8" width="27.7" height="89.8" fill="#5a6db0" />
<rect x="1297.4" y="607.9" width="108.5" height="90.8" fill="#5a6db0" />
<rect x="1111.1" y="484.6" width="319.6" height="214.1" fill="url(#vig)" />
<rect x="1226.7" y="535.4" width="38.4" height="38.1" fill="#b88aa8" rx="1.5" opacity="0.75"/>
<rect x="1227.7" y="536.5" width="36.3" height="35.4" fill="url(#sqp)" rx="1"/>
<rect x="1271.2" y="532.9" width="42.5" height="41.9" fill="#8c8cd0" rx="1.5" opacity="0.8"/>
<rect x="1272.4" y="534.3" width="40.1" height="39.3" fill="url(#sqb)" rx="1"/>
<rect x="1227.6" y="580.6" width="38.1" height="38.1" fill="#b88aa8" rx="1.5" opacity="0.75"/>
<rect x="1228.6" y="581.7" width="36" height="35.4" fill="url(#sqp)" rx="1"/>
<rect x="1272.5" y="580.6" width="38.4" height="38.1" fill="#b88aa8" rx="1.5" opacity="0.75"/>
<rect x="1273.5" y="581.7" width="36.3" height="35.4" fill="url(#sqp)" rx="1"/>
<ellipse cx="1119.5" cy="505.4" rx="1" ry="1" fill="#181824" opacity="0.6"/><ellipse cx="1190.1" cy="565.1" rx="1" ry="1" fill="#181824" opacity="0.6"/><ellipse cx="1174.7" cy="591.4" rx="1" ry="1" fill="#181824" opacity="0.6"/><ellipse cx="1192.5" cy="588.9" rx="1" ry="1" fill="#181824" opacity="0.6"/><ellipse cx="1194" cy="618.8" rx="1.1" ry="1.1" fill="#181824" opacity="0.6"/><ellipse cx="1314.3" cy="522" rx="1" ry="1" fill="#181824" opacity="0.6"/><ellipse cx="1339" cy="530.5" rx="1.3" ry="1.3" fill="#181824" opacity="0.6"/><ellipse cx="1380.1" cy="594.7" rx="0.9" ry="0.9" fill="#181824" opacity="0.6"/><ellipse cx="1385.5" cy="612.8" rx="0.9" ry="0.9" fill="#181824" opacity="0.6"/><ellipse cx="1117.1" cy="670.7" rx="1.4" ry="1.4" fill="#181824" opacity="0.6"/><ellipse cx="1188" cy="679.1" rx="0.9" ry="0.9" fill="#181824" opacity="0.6"/><ellipse cx="1226.9" cy="674.3" rx="1" ry="1" fill="#181824" opacity="0.6"/><ellipse cx="1360.2" cy="668.8" rx="0.9" ry="0.9" fill="#181824" opacity="0.6"/><ellipse cx="1365.9" cy="668.8" rx="0.9" ry="0.9" fill="#181824" opacity="0.6"/><ellipse cx="1245.3" cy="606.7" rx="0.9" ry="0.9" fill="#181824" opacity="0.6"/>
<rect x="1390" y="684.2" width="40.1" height="13.9" fill="#ffffff" />
<text transform="translate(1431.3 677.6) scale(0.9 1)" x="0" y="0" text-anchor="end" font-family='"Liberation Sans", sans-serif' font-size="21.2" fill="#fff" stroke="#fff" stroke-width="0.4">500µm</text>
</g>
<g id="e4" filter="url(#soft)">
<rect x="1453.5" y="484.6" width="321.7" height="214.1" fill="#c4c5bc" />
<rect x="1473.1" y="484.6" width="108.2" height="61.8" fill="#5a6db0" />
<rect x="1597.3" y="484.6" width="28" height="136.3" fill="#5a6db0" />
<rect x="1641.6" y="484.6" width="107.9" height="61.8" fill="#5a6db0" />
<rect x="1453.5" y="561.5" width="321.7" height="29.8" fill="#5a6db0" />
<rect x="1474.6" y="607.9" width="106.7" height="90.8" fill="#5a6db0" />
<rect x="1597.3" y="608.8" width="28" height="89.8" fill="#5a6db0" />
<rect x="1641.6" y="607.9" width="108.5" height="90.8" fill="#5a6db0" />
<rect x="1453.5" y="484.6" width="321.7" height="214.1" fill="url(#vig)" />
<rect x="1570.3" y="535.4" width="39" height="38.1" fill="#b88aa8" rx="1.5" opacity="0.75"/>
<rect x="1571.3" y="536.5" width="36.9" height="35.4" fill="url(#sqp)" rx="1"/>
<rect x="1615.5" y="535.4" width="39" height="38.1" fill="#b88aa8" rx="1.5" opacity="0.75"/>
<rect x="1616.5" y="536.5" width="36.9" height="35.4" fill="url(#sqp)" rx="1"/>
<rect x="1571.2" y="580.6" width="38.4" height="38.1" fill="#b88aa8" rx="1.5" opacity="0.75"/>
<rect x="1572.2" y="581.7" width="36.3" height="35.4" fill="url(#sqp)" rx="1"/>
<rect x="1613.9" y="578.7" width="43.4" height="42.2" fill="#8c8cd0" rx="1.5" opacity="0.8"/>
<rect x="1615.1" y="580.1" width="41" height="39.6" fill="url(#sqb)" rx="1"/>
<ellipse cx="1463.1" cy="505.4" rx="1" ry="1" fill="#181824" opacity="0.6"/><ellipse cx="1533.4" cy="565.1" rx="1" ry="1" fill="#181824" opacity="0.6"/><ellipse cx="1518.3" cy="591.4" rx="1" ry="1" fill="#181824" opacity="0.6"/><ellipse cx="1535.8" cy="588.9" rx="1" ry="1" fill="#181824" opacity="0.6"/><ellipse cx="1537.6" cy="618.8" rx="1.1" ry="1.1" fill="#181824" opacity="0.6"/><ellipse cx="1657.9" cy="522" rx="1" ry="1" fill="#181824" opacity="0.6"/><ellipse cx="1682.9" cy="530.5" rx="1.3" ry="1.3" fill="#181824" opacity="0.6"/><ellipse cx="1723.9" cy="594.7" rx="0.9" ry="0.9" fill="#181824" opacity="0.6"/><ellipse cx="1729.1" cy="612.8" rx="0.9" ry="0.9" fill="#181824" opacity="0.6"/><ellipse cx="1460.1" cy="670.7" rx="1.4" ry="1.4" fill="#181824" opacity="0.6"/><ellipse cx="1531.6" cy="679.1" rx="0.9" ry="0.9" fill="#181824" opacity="0.6"/><ellipse cx="1570.5" cy="674.3" rx="1" ry="1" fill="#181824" opacity="0.6"/><ellipse cx="1703.7" cy="668.8" rx="0.9" ry="0.9" fill="#181824" opacity="0.6"/><ellipse cx="1709.5" cy="668.8" rx="0.9" ry="0.9" fill="#181824" opacity="0.6"/><ellipse cx="1588.3" cy="606.7" rx="0.9" ry="0.9" fill="#181824" opacity="0.6"/><ellipse cx="1650.7" cy="558.2" rx="0.9" ry="0.9" fill="#181824" opacity="0.6"/>
<rect x="1733.9" y="684.2" width="40.4" height="13.9" fill="#ffffff" />
<text transform="translate(1775.2 677.6) scale(0.9 1)" x="0" y="0" text-anchor="end" font-family='"Liberation Sans", sans-serif' font-size="21.2" fill="#fff" stroke="#fff" stroke-width="0.4">500µm</text>
</g>
</g>
</svg>
</body>
</html>
